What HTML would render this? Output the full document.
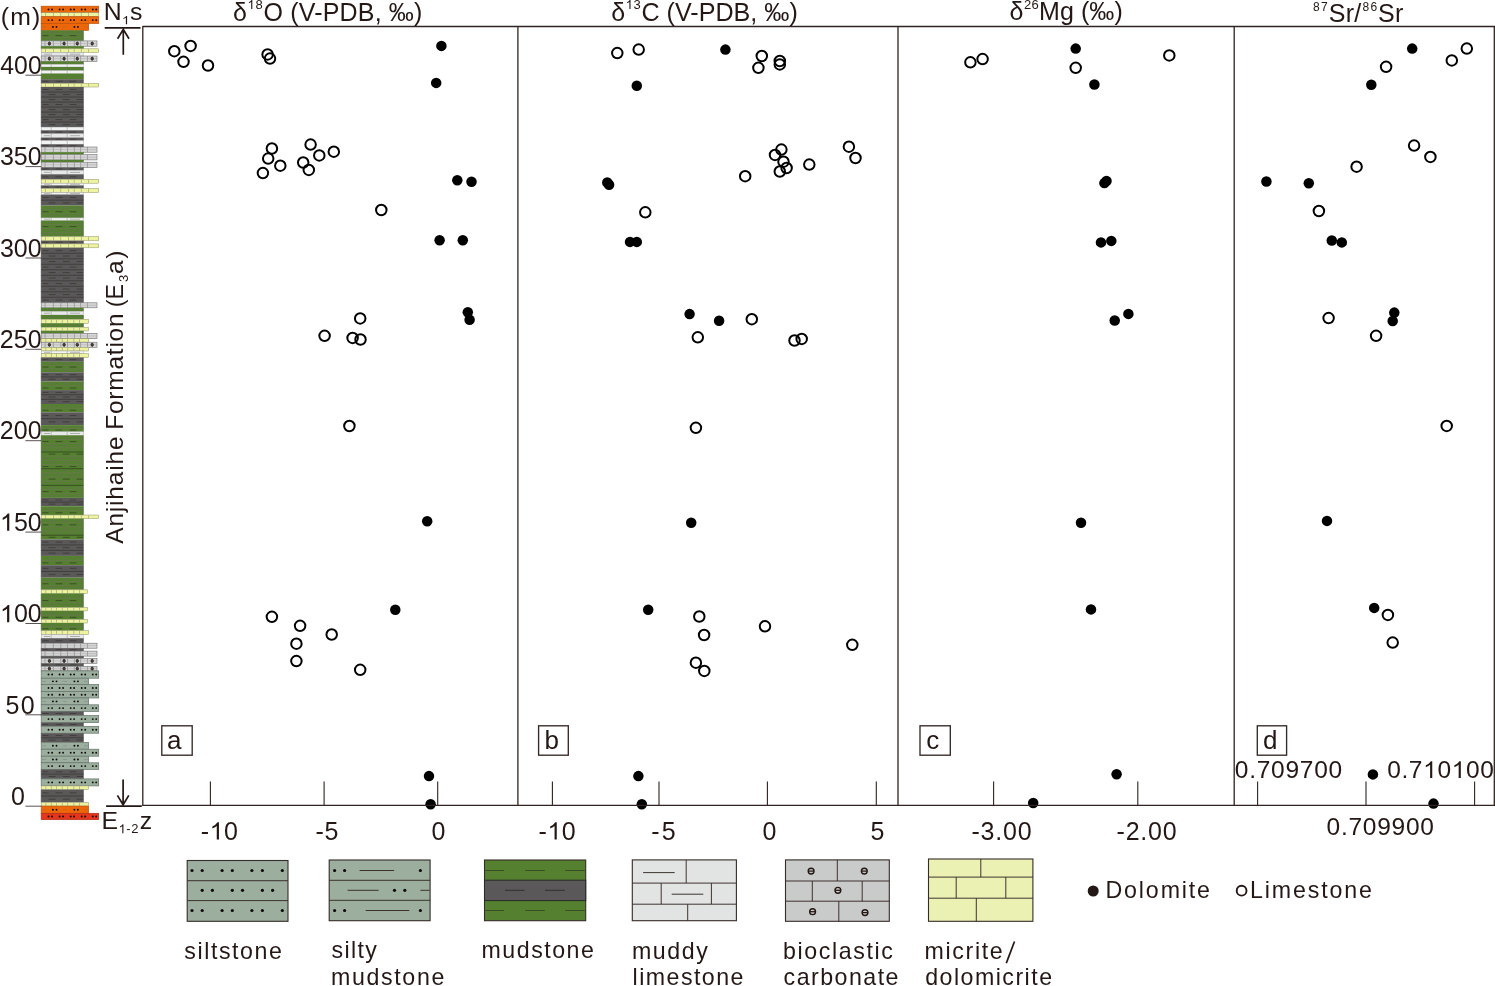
<!DOCTYPE html>
<html lang="en">
<head>
<meta charset="utf-8">
<title>Anjihaihe Formation isotope profiles</title>
<style>
html,body{margin:0;padding:0;background:#fff;}
body{width:1495px;height:986px;overflow:hidden;font-family:'Liberation Sans', sans-serif;}
svg{display:block;will-change:transform;}
svg text{font-family:"Liberation Sans",sans-serif;fill:#231815;}
</style>
</head>
<body>
<svg width="1495" height="986" viewBox="0 0 1495 986">
<rect width="1495" height="986" fill="#fff"/>
<g id="column">
<rect x="41.2" y="6.2" width="57.5" height="6.5" fill="#ed6709" stroke="#b9520c" stroke-width="0.7"/>
<circle cx="48.5" cy="9.45" r="0.95" fill="#0d0a09"/>
<circle cx="52.1" cy="9.45" r="0.95" fill="#0d0a09"/>
<circle cx="59.6" cy="9.45" r="0.95" fill="#0d0a09"/>
<circle cx="63.1" cy="9.45" r="0.95" fill="#0d0a09"/>
<circle cx="70.7" cy="9.45" r="0.95" fill="#0d0a09"/>
<circle cx="74.1" cy="9.45" r="0.95" fill="#0d0a09"/>
<circle cx="81.7" cy="9.45" r="0.95" fill="#0d0a09"/>
<circle cx="85.2" cy="9.45" r="0.95" fill="#0d0a09"/>
<circle cx="92.8" cy="9.45" r="0.95" fill="#0d0a09"/>
<circle cx="96.2" cy="9.45" r="0.95" fill="#0d0a09"/>
<rect x="41.2" y="12.7" width="57.5" height="4.0" fill="#eef3a2" stroke="#8f9068" stroke-width="0.5"/>
<path d="M45.5 13.0V16.4M53.5 13.0V16.4M60.7 13.0V16.4M68.5 13.0V16.4M74.2 13.0V16.4M81.4 13.0V16.4M88.5 13.0V16.4" stroke="#a4a67c" stroke-width="0.7" fill="none"/>
<rect x="41.2" y="16.7" width="57.5" height="6.8" fill="#ed6709" stroke="#b9520c" stroke-width="0.7"/>
<circle cx="48.5" cy="20.10" r="0.95" fill="#0d0a09"/>
<circle cx="52.1" cy="20.10" r="0.95" fill="#0d0a09"/>
<circle cx="59.6" cy="20.10" r="0.95" fill="#0d0a09"/>
<circle cx="63.1" cy="20.10" r="0.95" fill="#0d0a09"/>
<circle cx="70.7" cy="20.10" r="0.95" fill="#0d0a09"/>
<circle cx="74.1" cy="20.10" r="0.95" fill="#0d0a09"/>
<circle cx="81.7" cy="20.10" r="0.95" fill="#0d0a09"/>
<circle cx="85.2" cy="20.10" r="0.95" fill="#0d0a09"/>
<circle cx="92.8" cy="20.10" r="0.95" fill="#0d0a09"/>
<circle cx="96.2" cy="20.10" r="0.95" fill="#0d0a09"/>
<rect x="41.2" y="23.5" width="47.4" height="6.8" fill="#ed6709" stroke="#b9520c" stroke-width="0.7"/>
<circle cx="52.9" cy="26.90" r="0.95" fill="#0d0a09"/>
<circle cx="56.5" cy="26.90" r="0.95" fill="#0d0a09"/>
<circle cx="74.4" cy="26.90" r="0.95" fill="#0d0a09"/>
<circle cx="77.9" cy="26.90" r="0.95" fill="#0d0a09"/>
<path d="M41.8 26.9H46.0" stroke="#b8652a" stroke-width="0.6" fill="none"/>
<path d="M62.8 26.9H67.0" stroke="#b8652a" stroke-width="0.6" fill="none"/>
<path d="M84.0 26.9H88.2" stroke="#b8652a" stroke-width="0.6" fill="none"/>
<rect x="41.2" y="30.3" width="42.2" height="10.6" fill="#54802f"/>
<path d="M41.2 33.83H83.4M41.2 37.37H83.4" stroke="#6f7658" stroke-width="0.65" fill="none"/>
<path d="M48.7 32.07H55.6M62.8 32.07H69.7M76.6 32.07H83.1M48.7 39.13H55.6M62.8 39.13H69.7M76.6 39.13H83.1" stroke="#68705a" stroke-width="0.6" fill="none"/>
<path d="M42.4 35.60H48.5M55.6 35.60H62.4M69.7 35.60H76.4" stroke="#2f3f1f" stroke-width="0.7" fill="none"/>
<path d="M41.2 30.3V40.9M83.4 30.3V40.9" stroke="#3c5a24" stroke-width="0.5" fill="none"/>
<rect x="41.2" y="40.9" width="55.8" height="5.3" fill="#d6d6d6" stroke="#6f6f6f" stroke-width="0.6"/>
<path d="M45.1 40.9V46.2M53.4 40.9V46.2M60.8 40.9V46.2M67.5 40.9V46.2M74.4 40.9V46.2M80.6 40.9V46.2M87.5 40.9V46.2" stroke="#858585" stroke-width="0.65" fill="none"/>
<path d="M41.2 43.5H97.0" stroke="#a8a8a8" stroke-width="0.45" fill="none"/>
<ellipse cx="49.4" cy="43.55" rx="1.15" ry="1.6" fill="#4a4545" stroke="#231815" stroke-width="0.8"/>
<ellipse cx="64.1" cy="43.55" rx="1.15" ry="1.6" fill="#4a4545" stroke="#231815" stroke-width="0.8"/>
<ellipse cx="77.3" cy="43.55" rx="1.15" ry="1.6" fill="#4a4545" stroke="#231815" stroke-width="0.8"/>
<ellipse cx="92.2" cy="43.55" rx="1.15" ry="1.6" fill="#4a4545" stroke="#231815" stroke-width="0.8"/>
<rect x="41.2" y="46.2" width="42.2" height="2.6" fill="#54802f"/>
<path d="M41.2 46.2V48.8M83.4 46.2V48.8" stroke="#3c5a24" stroke-width="0.5" fill="none"/>
<rect x="41.2" y="48.8" width="57.5" height="3.7" fill="#eef3a2" stroke="#8f9068" stroke-width="0.5"/>
<path d="M45.5 49.1V52.2M53.5 49.1V52.2M60.7 49.1V52.2M68.5 49.1V52.2M74.2 49.1V52.2M81.4 49.1V52.2M88.5 49.1V52.2" stroke="#a4a67c" stroke-width="0.7" fill="none"/>
<rect x="41.2" y="52.5" width="42.2" height="3.5" fill="#e6e7e7" stroke="#9a9a9a" stroke-width="0.4"/>
<path d="M51.2 52.5V56.0M67.2 52.5V56.0" stroke="#8d8d8d" stroke-width="0.5" fill="none"/>
<path d="M44.0 54.2H50.0" stroke="#777" stroke-width="0.5" fill="none"/>
<path d="M70.0 54.2H80.0" stroke="#777" stroke-width="0.5" fill="none"/>
<rect x="41.2" y="56.0" width="55.8" height="5.3" fill="#d6d6d6" stroke="#6f6f6f" stroke-width="0.6"/>
<path d="M45.1 56.0V61.3M53.4 56.0V61.3M60.8 56.0V61.3M67.5 56.0V61.3M74.4 56.0V61.3M80.6 56.0V61.3M87.5 56.0V61.3" stroke="#858585" stroke-width="0.65" fill="none"/>
<path d="M41.2 58.6H97.0" stroke="#a8a8a8" stroke-width="0.45" fill="none"/>
<ellipse cx="49.4" cy="58.65" rx="1.15" ry="1.6" fill="#4a4545" stroke="#231815" stroke-width="0.8"/>
<ellipse cx="64.1" cy="58.65" rx="1.15" ry="1.6" fill="#4a4545" stroke="#231815" stroke-width="0.8"/>
<ellipse cx="77.3" cy="58.65" rx="1.15" ry="1.6" fill="#4a4545" stroke="#231815" stroke-width="0.8"/>
<ellipse cx="92.2" cy="58.65" rx="1.15" ry="1.6" fill="#4a4545" stroke="#231815" stroke-width="0.8"/>
<rect x="41.2" y="61.3" width="42.2" height="3.1" fill="#54802f"/>
<path d="M48.7 62.85H55.6M62.8 62.85H69.7M76.6 62.85H83.1" stroke="#68705a" stroke-width="0.6" fill="none"/>
<path d="M41.2 61.3V64.4M83.4 61.3V64.4" stroke="#3c5a24" stroke-width="0.5" fill="none"/>
<rect x="41.2" y="64.4" width="42.2" height="2.6" fill="#f1f2f2" stroke="#9a9a9a" stroke-width="0.4"/>
<path d="M51.2 64.4V67.0M67.2 64.4V67.0" stroke="#8d8d8d" stroke-width="0.5" fill="none"/>
<rect x="41.2" y="67.0" width="42.2" height="3.6" fill="#54802f"/>
<path d="M48.7 68.80H55.6M62.8 68.80H69.7M76.6 68.80H83.1" stroke="#68705a" stroke-width="0.6" fill="none"/>
<path d="M41.2 67.0V70.6M83.4 67.0V70.6" stroke="#3c5a24" stroke-width="0.5" fill="none"/>
<rect x="41.2" y="70.6" width="42.2" height="3.0" fill="#f1f2f2" stroke="#9a9a9a" stroke-width="0.4"/>
<path d="M51.2 70.6V73.6M67.2 70.6V73.6" stroke="#8d8d8d" stroke-width="0.5" fill="none"/>
<rect x="41.2" y="73.6" width="42.2" height="5.6" fill="#54802f"/>
<path d="M48.7 76.40H55.6M62.8 76.40H69.7M76.6 76.40H83.1" stroke="#68705a" stroke-width="0.6" fill="none"/>
<path d="M41.2 73.6V79.2M83.4 73.6V79.2" stroke="#3c5a24" stroke-width="0.5" fill="none"/>
<rect x="41.2" y="79.2" width="42.2" height="4.2" fill="#5a5858"/>
<path d="M42.4 81.30H48.5M55.6 81.30H62.4M69.7 81.30H76.4" stroke="#383434" stroke-width="0.7" fill="none"/>
<path d="M41.2 79.2V83.4M83.4 79.2V83.4" stroke="#3d3939" stroke-width="0.5" fill="none"/>
<rect x="41.2" y="83.4" width="57.5" height="3.6" fill="#eef3a2" stroke="#8f9068" stroke-width="0.5"/>
<path d="M45.5 83.7V86.7M53.5 83.7V86.7M60.7 83.7V86.7M68.5 83.7V86.7M74.2 83.7V86.7M81.4 83.7V86.7M88.5 83.7V86.7" stroke="#a4a67c" stroke-width="0.7" fill="none"/>
<rect x="41.2" y="87.0" width="42.2" height="40.1" fill="#5a5858"/>
<path d="M41.2 92.01H83.4M41.2 97.03H83.4M41.2 102.04H83.4M41.2 107.05H83.4M41.2 112.06H83.4M41.2 117.07H83.4M41.2 122.09H83.4" stroke="#3d3939" stroke-width="0.8" fill="none"/>
<path d="M42.4 89.51H48.5M55.6 89.51H62.4M69.7 89.51H76.4M48.7 94.52H55.6M62.8 94.52H69.7M76.6 94.52H83.1M48.7 99.53H55.6M62.8 99.53H69.7M76.6 99.53H83.1M42.4 104.54H48.5M55.6 104.54H62.4M69.7 104.54H76.4M48.7 109.56H55.6M62.8 109.56H69.7M76.6 109.56H83.1M48.7 114.57H55.6M62.8 114.57H69.7M76.6 114.57H83.1M42.4 119.58H48.5M55.6 119.58H62.4M69.7 119.58H76.4M48.7 124.59H55.6M62.8 124.59H69.7M76.6 124.59H83.1" stroke="#383434" stroke-width="0.7" fill="none"/>
<path d="M41.2 87.0V127.1M83.4 87.0V127.1" stroke="#3d3939" stroke-width="0.5" fill="none"/>
<rect x="41.2" y="127.1" width="42.2" height="3.3" fill="#f1f2f2" stroke="#9a9a9a" stroke-width="0.4"/>
<path d="M51.2 127.1V130.4M67.2 127.1V130.4" stroke="#8d8d8d" stroke-width="0.5" fill="none"/>
<rect x="41.2" y="130.4" width="42.2" height="3.3" fill="#5a5858"/>
<path d="M42.4 132.05H48.5M55.6 132.05H62.4M69.7 132.05H76.4" stroke="#383434" stroke-width="0.7" fill="none"/>
<path d="M41.2 130.4V133.7M83.4 130.4V133.7" stroke="#3d3939" stroke-width="0.5" fill="none"/>
<rect x="41.2" y="133.7" width="42.2" height="4.0" fill="#e6e7e7" stroke="#9a9a9a" stroke-width="0.4"/>
<path d="M51.2 133.7V137.7M67.2 133.7V137.7" stroke="#8d8d8d" stroke-width="0.5" fill="none"/>
<path d="M44.0 135.7H50.0" stroke="#777" stroke-width="0.5" fill="none"/>
<path d="M70.0 135.7H80.0" stroke="#777" stroke-width="0.5" fill="none"/>
<rect x="41.2" y="137.7" width="42.2" height="2.9" fill="#5a5858"/>
<path d="M42.4 139.15H48.5M55.6 139.15H62.4M69.7 139.15H76.4" stroke="#383434" stroke-width="0.7" fill="none"/>
<path d="M41.2 137.7V140.6M83.4 137.7V140.6" stroke="#3d3939" stroke-width="0.5" fill="none"/>
<rect x="41.2" y="140.6" width="42.2" height="3.7" fill="#f1f2f2" stroke="#9a9a9a" stroke-width="0.4"/>
<path d="M51.2 140.6V144.3M67.2 140.6V144.3" stroke="#8d8d8d" stroke-width="0.5" fill="none"/>
<rect x="41.2" y="144.3" width="42.2" height="2.7" fill="#5a5858"/>
<path d="M42.4 145.65H48.5M55.6 145.65H62.4M69.7 145.65H76.4" stroke="#383434" stroke-width="0.7" fill="none"/>
<path d="M41.2 144.3V147.0M83.4 144.3V147.0" stroke="#3d3939" stroke-width="0.5" fill="none"/>
<rect x="41.2" y="147.0" width="55.8" height="5.2" fill="#d6d6d6" stroke="#6f6f6f" stroke-width="0.6"/>
<path d="M45.1 147.0V152.2M53.4 147.0V152.2M60.8 147.0V152.2M67.5 147.0V152.2M74.4 147.0V152.2M80.6 147.0V152.2M87.5 147.0V152.2" stroke="#858585" stroke-width="0.65" fill="none"/>
<path d="M41.2 149.6H97.0" stroke="#a8a8a8" stroke-width="0.45" fill="none"/>
<rect x="41.2" y="152.2" width="42.2" height="2.4" fill="#54802f"/>
<path d="M41.2 152.2V154.6M83.4 152.2V154.6" stroke="#3c5a24" stroke-width="0.5" fill="none"/>
<rect x="41.2" y="154.6" width="55.8" height="5.3" fill="#d6d6d6" stroke="#6f6f6f" stroke-width="0.6"/>
<path d="M45.1 154.6V159.9M53.4 154.6V159.9M60.8 154.6V159.9M67.5 154.6V159.9M74.4 154.6V159.9M80.6 154.6V159.9M87.5 154.6V159.9" stroke="#858585" stroke-width="0.65" fill="none"/>
<path d="M41.2 157.2H97.0" stroke="#a8a8a8" stroke-width="0.45" fill="none"/>
<rect x="41.2" y="159.9" width="42.2" height="2.3" fill="#54802f"/>
<path d="M41.2 159.9V162.2M83.4 159.9V162.2" stroke="#3c5a24" stroke-width="0.5" fill="none"/>
<rect x="41.2" y="162.2" width="55.8" height="5.3" fill="#d6d6d6" stroke="#6f6f6f" stroke-width="0.6"/>
<path d="M45.1 162.2V167.5M53.4 162.2V167.5M60.8 162.2V167.5M67.5 162.2V167.5M74.4 162.2V167.5M80.6 162.2V167.5M87.5 162.2V167.5" stroke="#858585" stroke-width="0.65" fill="none"/>
<path d="M41.2 164.8H97.0" stroke="#a8a8a8" stroke-width="0.45" fill="none"/>
<rect x="41.2" y="167.5" width="42.2" height="2.9" fill="#5a5858"/>
<path d="M42.4 168.95H48.5M55.6 168.95H62.4M69.7 168.95H76.4" stroke="#383434" stroke-width="0.7" fill="none"/>
<path d="M41.2 167.5V170.4M83.4 167.5V170.4" stroke="#3d3939" stroke-width="0.5" fill="none"/>
<rect x="41.2" y="170.4" width="42.2" height="4.0" fill="#e6e7e7" stroke="#9a9a9a" stroke-width="0.4"/>
<path d="M51.2 170.4V174.4M67.2 170.4V174.4" stroke="#8d8d8d" stroke-width="0.5" fill="none"/>
<path d="M44.0 172.4H50.0" stroke="#777" stroke-width="0.5" fill="none"/>
<path d="M70.0 172.4H80.0" stroke="#777" stroke-width="0.5" fill="none"/>
<rect x="41.2" y="174.4" width="42.2" height="4.9" fill="#5a5858"/>
<path d="M42.4 176.85H48.5M55.6 176.85H62.4M69.7 176.85H76.4" stroke="#383434" stroke-width="0.7" fill="none"/>
<path d="M41.2 174.4V179.3M83.4 174.4V179.3" stroke="#3d3939" stroke-width="0.5" fill="none"/>
<rect x="41.2" y="179.3" width="57.5" height="3.9" fill="#eef3a2" stroke="#8f9068" stroke-width="0.5"/>
<path d="M45.5 179.6V182.9M53.5 179.6V182.9M60.7 179.6V182.9M68.5 179.6V182.9M74.2 179.6V182.9M81.4 179.6V182.9M88.5 179.6V182.9" stroke="#a4a67c" stroke-width="0.7" fill="none"/>
<rect x="41.2" y="183.2" width="42.2" height="2.3" fill="#f1f2f2" stroke="#9a9a9a" stroke-width="0.4"/>
<path d="M51.2 183.2V185.5M67.2 183.2V185.5" stroke="#8d8d8d" stroke-width="0.5" fill="none"/>
<path d="M44.0 184.3H50.0" stroke="#777" stroke-width="0.5" fill="none"/>
<path d="M70.0 184.3H80.0" stroke="#777" stroke-width="0.5" fill="none"/>
<rect x="41.2" y="185.5" width="42.2" height="3.0" fill="#5a5858"/>
<path d="M42.4 187.00H48.5M55.6 187.00H62.4M69.7 187.00H76.4" stroke="#383434" stroke-width="0.7" fill="none"/>
<path d="M41.2 185.5V188.5M83.4 185.5V188.5" stroke="#3d3939" stroke-width="0.5" fill="none"/>
<rect x="41.2" y="188.5" width="57.5" height="4.0" fill="#eef3a2" stroke="#8f9068" stroke-width="0.5"/>
<path d="M45.5 188.8V192.2M53.5 188.8V192.2M60.7 188.8V192.2M68.5 188.8V192.2M74.2 188.8V192.2M81.4 188.8V192.2M88.5 188.8V192.2" stroke="#a4a67c" stroke-width="0.7" fill="none"/>
<rect x="41.2" y="192.5" width="42.2" height="2.2" fill="#f1f2f2" stroke="#9a9a9a" stroke-width="0.4"/>
<path d="M51.2 192.5V194.7M67.2 192.5V194.7" stroke="#8d8d8d" stroke-width="0.5" fill="none"/>
<path d="M44.0 193.6H50.0" stroke="#777" stroke-width="0.5" fill="none"/>
<path d="M70.0 193.6H80.0" stroke="#777" stroke-width="0.5" fill="none"/>
<rect x="41.2" y="194.7" width="42.2" height="10.9" fill="#5a5858"/>
<path d="M41.2 200.15H83.4" stroke="#3d3939" stroke-width="0.8" fill="none"/>
<path d="M42.4 197.42H48.5M55.6 197.42H62.4M69.7 197.42H76.4M48.7 202.88H55.6M62.8 202.88H69.7M76.6 202.88H83.1" stroke="#383434" stroke-width="0.7" fill="none"/>
<path d="M41.2 194.7V205.6M83.4 194.7V205.6" stroke="#3d3939" stroke-width="0.5" fill="none"/>
<rect x="41.2" y="205.6" width="42.2" height="12.3" fill="#54802f"/>
<path d="M41.2 209.70H83.4M41.2 213.80H83.4" stroke="#6f7658" stroke-width="0.65" fill="none"/>
<path d="M48.7 207.65H55.6M62.8 207.65H69.7M76.6 207.65H83.1M48.7 215.85H55.6M62.8 215.85H69.7M76.6 215.85H83.1" stroke="#68705a" stroke-width="0.6" fill="none"/>
<path d="M42.4 211.75H48.5M55.6 211.75H62.4M69.7 211.75H76.4" stroke="#2f3f1f" stroke-width="0.7" fill="none"/>
<path d="M41.2 205.6V217.9M83.4 205.6V217.9" stroke="#3c5a24" stroke-width="0.5" fill="none"/>
<rect x="41.2" y="217.9" width="42.2" height="2.7" fill="#f1f2f2" stroke="#9a9a9a" stroke-width="0.4"/>
<path d="M51.2 217.9V220.6M67.2 217.9V220.6" stroke="#8d8d8d" stroke-width="0.5" fill="none"/>
<path d="M44.0 219.2H50.0" stroke="#777" stroke-width="0.5" fill="none"/>
<path d="M70.0 219.2H80.0" stroke="#777" stroke-width="0.5" fill="none"/>
<rect x="41.2" y="220.6" width="42.2" height="16.0" fill="#54802f"/>
<path d="M41.2 224.60H83.4M41.2 228.60H83.4M41.2 232.60H83.4" stroke="#6f7658" stroke-width="0.65" fill="none"/>
<path d="M48.7 222.60H55.6M62.8 222.60H69.7M76.6 222.60H83.1M48.7 230.60H55.6M62.8 230.60H69.7M76.6 230.60H83.1M42.4 234.60H48.5M55.6 234.60H62.4M69.7 234.60H76.4" stroke="#68705a" stroke-width="0.6" fill="none"/>
<path d="M42.4 226.60H48.5M55.6 226.60H62.4M69.7 226.60H76.4" stroke="#2f3f1f" stroke-width="0.7" fill="none"/>
<path d="M41.2 220.6V236.6M83.4 220.6V236.6" stroke="#3c5a24" stroke-width="0.5" fill="none"/>
<rect x="41.2" y="236.6" width="57.5" height="4.2" fill="#eef3a2" stroke="#8f9068" stroke-width="0.5"/>
<path d="M45.5 236.9V240.5M53.5 236.9V240.5M60.7 236.9V240.5M68.5 236.9V240.5M74.2 236.9V240.5M81.4 236.9V240.5M88.5 236.9V240.5" stroke="#a4a67c" stroke-width="0.7" fill="none"/>
<rect x="41.2" y="240.8" width="42.2" height="3.1" fill="#5a5858"/>
<path d="M42.4 242.35H48.5M55.6 242.35H62.4M69.7 242.35H76.4" stroke="#383434" stroke-width="0.7" fill="none"/>
<path d="M41.2 240.8V243.9M83.4 240.8V243.9" stroke="#3d3939" stroke-width="0.5" fill="none"/>
<rect x="41.2" y="243.9" width="57.5" height="3.9" fill="#eef3a2" stroke="#8f9068" stroke-width="0.5"/>
<path d="M45.5 244.2V247.5M53.5 244.2V247.5M60.7 244.2V247.5M68.5 244.2V247.5M74.2 244.2V247.5M81.4 244.2V247.5M88.5 244.2V247.5" stroke="#a4a67c" stroke-width="0.7" fill="none"/>
<rect x="41.2" y="247.8" width="42.2" height="55.0" fill="#5a5858"/>
<path d="M41.2 253.30H83.4M41.2 258.80H83.4M41.2 264.30H83.4M41.2 269.80H83.4M41.2 275.30H83.4M41.2 280.80H83.4M41.2 286.30H83.4M41.2 291.80H83.4M41.2 297.30H83.4" stroke="#3d3939" stroke-width="0.8" fill="none"/>
<path d="M42.4 250.55H48.5M55.6 250.55H62.4M69.7 250.55H76.4M48.7 256.05H55.6M62.8 256.05H69.7M76.6 256.05H83.1M48.7 261.55H55.6M62.8 261.55H69.7M76.6 261.55H83.1M42.4 267.05H48.5M55.6 267.05H62.4M69.7 267.05H76.4M48.7 272.55H55.6M62.8 272.55H69.7M76.6 272.55H83.1M48.7 278.05H55.6M62.8 278.05H69.7M76.6 278.05H83.1M42.4 283.55H48.5M55.6 283.55H62.4M69.7 283.55H76.4M48.7 289.05H55.6M62.8 289.05H69.7M76.6 289.05H83.1M48.7 294.55H55.6M62.8 294.55H69.7M76.6 294.55H83.1M42.4 300.05H48.5M55.6 300.05H62.4M69.7 300.05H76.4" stroke="#383434" stroke-width="0.7" fill="none"/>
<path d="M41.2 247.8V302.8M83.4 247.8V302.8" stroke="#3d3939" stroke-width="0.5" fill="none"/>
<rect x="41.2" y="302.8" width="55.8" height="5.0" fill="#d6d6d6" stroke="#6f6f6f" stroke-width="0.6"/>
<path d="M45.1 302.8V307.8M53.4 302.8V307.8M60.8 302.8V307.8M67.5 302.8V307.8M74.4 302.8V307.8M80.6 302.8V307.8M87.5 302.8V307.8" stroke="#858585" stroke-width="0.65" fill="none"/>
<path d="M41.2 305.3H97.0" stroke="#a8a8a8" stroke-width="0.45" fill="none"/>
<rect x="41.2" y="307.8" width="42.2" height="3.6" fill="#54802f"/>
<path d="M48.7 309.60H55.6M62.8 309.60H69.7M76.6 309.60H83.1" stroke="#68705a" stroke-width="0.6" fill="none"/>
<path d="M41.2 307.8V311.4M83.4 307.8V311.4" stroke="#3c5a24" stroke-width="0.5" fill="none"/>
<rect x="41.2" y="311.4" width="42.2" height="3.6" fill="#e6e7e7" stroke="#9a9a9a" stroke-width="0.4"/>
<path d="M51.2 311.4V315.0M67.2 311.4V315.0" stroke="#8d8d8d" stroke-width="0.5" fill="none"/>
<path d="M44.0 313.2H50.0" stroke="#777" stroke-width="0.5" fill="none"/>
<path d="M70.0 313.2H80.0" stroke="#777" stroke-width="0.5" fill="none"/>
<rect x="41.2" y="315.0" width="42.2" height="4.3" fill="#54802f"/>
<path d="M48.7 317.15H55.6M62.8 317.15H69.7M76.6 317.15H83.1" stroke="#68705a" stroke-width="0.6" fill="none"/>
<path d="M41.2 315.0V319.3M83.4 315.0V319.3" stroke="#3c5a24" stroke-width="0.5" fill="none"/>
<rect x="41.2" y="319.3" width="47.4" height="4.0" fill="#eef3a2" stroke="#8f9068" stroke-width="0.5"/>
<path d="M45.8 319.6V323.0M51.4 319.6V323.0M56.5 319.6V323.0M62.3 319.6V323.0M67.6 319.6V323.0M73.8 319.6V323.0M79.5 319.6V323.0" stroke="#a4a67c" stroke-width="0.7" fill="none"/>
<rect x="41.2" y="323.3" width="42.2" height="3.9" fill="#54802f"/>
<path d="M48.7 325.25H55.6M62.8 325.25H69.7M76.6 325.25H83.1" stroke="#68705a" stroke-width="0.6" fill="none"/>
<path d="M41.2 323.3V327.2M83.4 323.3V327.2" stroke="#3c5a24" stroke-width="0.5" fill="none"/>
<rect x="41.2" y="327.2" width="47.4" height="3.7" fill="#eef3a2" stroke="#8f9068" stroke-width="0.5"/>
<path d="M45.8 327.5V330.6M51.4 327.5V330.6M56.5 327.5V330.6M62.3 327.5V330.6M67.6 327.5V330.6M73.8 327.5V330.6M79.5 327.5V330.6" stroke="#a4a67c" stroke-width="0.7" fill="none"/>
<rect x="41.2" y="330.9" width="42.2" height="2.5" fill="#54802f"/>
<path d="M41.2 330.9V333.4M83.4 330.9V333.4" stroke="#3c5a24" stroke-width="0.5" fill="none"/>
<rect x="41.2" y="333.4" width="55.8" height="5.3" fill="#d6d6d6" stroke="#6f6f6f" stroke-width="0.6"/>
<path d="M45.1 333.4V338.7M53.4 333.4V338.7M60.8 333.4V338.7M67.5 333.4V338.7M74.4 333.4V338.7M80.6 333.4V338.7M87.5 333.4V338.7" stroke="#858585" stroke-width="0.65" fill="none"/>
<path d="M41.2 336.0H97.0" stroke="#a8a8a8" stroke-width="0.45" fill="none"/>
<rect x="41.2" y="338.7" width="47.4" height="3.5" fill="#eef3a2" stroke="#8f9068" stroke-width="0.5"/>
<path d="M45.8 339.0V341.9M51.4 339.0V341.9M56.5 339.0V341.9M62.3 339.0V341.9M67.6 339.0V341.9M73.8 339.0V341.9M79.5 339.0V341.9" stroke="#a4a67c" stroke-width="0.7" fill="none"/>
<rect x="41.2" y="342.2" width="55.8" height="5.1" fill="#d6d6d6" stroke="#6f6f6f" stroke-width="0.6"/>
<path d="M45.1 342.2V347.3M53.4 342.2V347.3M60.8 342.2V347.3M67.5 342.2V347.3M74.4 342.2V347.3M80.6 342.2V347.3M87.5 342.2V347.3" stroke="#858585" stroke-width="0.65" fill="none"/>
<path d="M41.2 344.8H97.0" stroke="#a8a8a8" stroke-width="0.45" fill="none"/>
<ellipse cx="49.4" cy="344.75" rx="1.15" ry="1.6" fill="#4a4545" stroke="#231815" stroke-width="0.8"/>
<ellipse cx="64.1" cy="344.75" rx="1.15" ry="1.6" fill="#4a4545" stroke="#231815" stroke-width="0.8"/>
<ellipse cx="77.3" cy="344.75" rx="1.15" ry="1.6" fill="#4a4545" stroke="#231815" stroke-width="0.8"/>
<ellipse cx="92.2" cy="344.75" rx="1.15" ry="1.6" fill="#4a4545" stroke="#231815" stroke-width="0.8"/>
<rect x="41.2" y="347.3" width="47.4" height="3.7" fill="#eef3a2" stroke="#8f9068" stroke-width="0.5"/>
<path d="M45.8 347.6V350.7M51.4 347.6V350.7M56.5 347.6V350.7M62.3 347.6V350.7M67.6 347.6V350.7M73.8 347.6V350.7M79.5 347.6V350.7" stroke="#a4a67c" stroke-width="0.7" fill="none"/>
<rect x="41.2" y="351.0" width="42.2" height="2.6" fill="#f1f2f2" stroke="#9a9a9a" stroke-width="0.4"/>
<path d="M51.2 351.0V353.6M67.2 351.0V353.6" stroke="#8d8d8d" stroke-width="0.5" fill="none"/>
<path d="M44.0 352.3H50.0" stroke="#777" stroke-width="0.5" fill="none"/>
<path d="M70.0 352.3H80.0" stroke="#777" stroke-width="0.5" fill="none"/>
<rect x="41.2" y="353.6" width="47.4" height="3.9" fill="#eef3a2" stroke="#8f9068" stroke-width="0.5"/>
<path d="M45.8 353.9V357.2M51.4 353.9V357.2M56.5 353.9V357.2M62.3 353.9V357.2M67.6 353.9V357.2M73.8 353.9V357.2M79.5 353.9V357.2" stroke="#a4a67c" stroke-width="0.7" fill="none"/>
<rect x="41.2" y="357.5" width="42.2" height="4.3" fill="#5a5858"/>
<path d="M42.4 359.65H48.5M55.6 359.65H62.4M69.7 359.65H76.4" stroke="#383434" stroke-width="0.7" fill="none"/>
<path d="M41.2 357.5V361.8M83.4 357.5V361.8" stroke="#3d3939" stroke-width="0.5" fill="none"/>
<rect x="41.2" y="361.8" width="42.2" height="10.5" fill="#54802f"/>
<path d="M41.2 365.30H83.4M41.2 368.80H83.4" stroke="#6f7658" stroke-width="0.65" fill="none"/>
<path d="M48.7 363.55H55.6M62.8 363.55H69.7M76.6 363.55H83.1M48.7 370.55H55.6M62.8 370.55H69.7M76.6 370.55H83.1" stroke="#68705a" stroke-width="0.6" fill="none"/>
<path d="M42.4 367.05H48.5M55.6 367.05H62.4M69.7 367.05H76.4" stroke="#2f3f1f" stroke-width="0.7" fill="none"/>
<path d="M41.2 361.8V372.3M83.4 361.8V372.3" stroke="#3c5a24" stroke-width="0.5" fill="none"/>
<rect x="41.2" y="372.3" width="42.2" height="9.3" fill="#5a5858"/>
<path d="M41.2 376.95H83.4" stroke="#3d3939" stroke-width="0.8" fill="none"/>
<path d="M42.4 374.62H48.5M55.6 374.62H62.4M69.7 374.62H76.4M48.7 379.28H55.6M62.8 379.28H69.7M76.6 379.28H83.1" stroke="#383434" stroke-width="0.7" fill="none"/>
<path d="M41.2 372.3V381.6M83.4 372.3V381.6" stroke="#3d3939" stroke-width="0.5" fill="none"/>
<rect x="41.2" y="381.6" width="42.2" height="8.5" fill="#54802f"/>
<path d="M41.2 385.85H83.4" stroke="#6f7658" stroke-width="0.65" fill="none"/>
<path d="M48.7 383.73H55.6M62.8 383.73H69.7M76.6 383.73H83.1" stroke="#68705a" stroke-width="0.6" fill="none"/>
<path d="M42.4 387.98H48.5M55.6 387.98H62.4M69.7 387.98H76.4" stroke="#2f3f1f" stroke-width="0.7" fill="none"/>
<path d="M41.2 381.6V390.1M83.4 381.6V390.1" stroke="#3c5a24" stroke-width="0.5" fill="none"/>
<rect x="41.2" y="390.1" width="42.2" height="13.9" fill="#5a5858"/>
<path d="M41.2 394.73H83.4M41.2 399.37H83.4" stroke="#3d3939" stroke-width="0.8" fill="none"/>
<path d="M42.4 392.42H48.5M55.6 392.42H62.4M69.7 392.42H76.4M48.7 397.05H55.6M62.8 397.05H69.7M76.6 397.05H83.1M48.7 401.68H55.6M62.8 401.68H69.7M76.6 401.68H83.1" stroke="#383434" stroke-width="0.7" fill="none"/>
<path d="M41.2 390.1V404.0M83.4 390.1V404.0" stroke="#3d3939" stroke-width="0.5" fill="none"/>
<rect x="41.2" y="404.0" width="42.2" height="8.3" fill="#54802f"/>
<path d="M41.2 408.15H83.4" stroke="#6f7658" stroke-width="0.65" fill="none"/>
<path d="M48.7 406.07H55.6M62.8 406.07H69.7M76.6 406.07H83.1" stroke="#68705a" stroke-width="0.6" fill="none"/>
<path d="M42.4 410.23H48.5M55.6 410.23H62.4M69.7 410.23H76.4" stroke="#2f3f1f" stroke-width="0.7" fill="none"/>
<path d="M41.2 404.0V412.3M83.4 404.0V412.3" stroke="#3c5a24" stroke-width="0.5" fill="none"/>
<rect x="41.2" y="412.3" width="42.2" height="12.8" fill="#5a5858"/>
<path d="M41.2 418.70H83.4" stroke="#3d3939" stroke-width="0.8" fill="none"/>
<path d="M42.4 415.50H48.5M55.6 415.50H62.4M69.7 415.50H76.4M48.7 421.90H55.6M62.8 421.90H69.7M76.6 421.90H83.1" stroke="#383434" stroke-width="0.7" fill="none"/>
<path d="M41.2 412.3V425.1M83.4 412.3V425.1" stroke="#3d3939" stroke-width="0.5" fill="none"/>
<rect x="41.2" y="425.1" width="42.2" height="6.6" fill="#54802f"/>
<path d="M41.2 428.40H83.4" stroke="#6f7658" stroke-width="0.65" fill="none"/>
<path d="M48.7 426.75H55.6M62.8 426.75H69.7M76.6 426.75H83.1" stroke="#68705a" stroke-width="0.6" fill="none"/>
<path d="M42.4 430.05H48.5M55.6 430.05H62.4M69.7 430.05H76.4" stroke="#2f3f1f" stroke-width="0.7" fill="none"/>
<path d="M41.2 425.1V431.7M83.4 425.1V431.7" stroke="#3c5a24" stroke-width="0.5" fill="none"/>
<rect x="41.2" y="431.7" width="42.2" height="3.6" fill="#e6e7e7" stroke="#9a9a9a" stroke-width="0.4"/>
<path d="M51.2 431.7V435.3M67.2 431.7V435.3" stroke="#8d8d8d" stroke-width="0.5" fill="none"/>
<path d="M44.0 433.5H50.0" stroke="#777" stroke-width="0.5" fill="none"/>
<path d="M70.0 433.5H80.0" stroke="#777" stroke-width="0.5" fill="none"/>
<rect x="41.2" y="435.3" width="42.2" height="62.6" fill="#54802f"/>
<path d="M41.2 439.47H83.4M41.2 443.65H83.4M41.2 447.82H83.4M41.2 456.17H83.4M41.2 460.34H83.4M41.2 464.51H83.4M41.2 472.86H83.4M41.2 477.03H83.4M41.2 481.21H83.4M41.2 489.55H83.4M41.2 493.73H83.4" stroke="#6f7658" stroke-width="0.65" fill="none"/>
<path d="M41.2 451.99H83.4M41.2 468.69H83.4M41.2 485.38H83.4" stroke="#2f3b1f" stroke-width="0.7" fill="none"/>
<path d="M48.7 437.39H55.6M62.8 437.39H69.7M76.6 437.39H83.1M48.7 445.73H55.6M62.8 445.73H69.7M76.6 445.73H83.1M42.4 449.91H48.5M55.6 449.91H62.4M69.7 449.91H76.4M42.4 458.25H48.5M55.6 458.25H62.4M69.7 458.25H76.4M48.7 462.43H55.6M62.8 462.43H69.7M76.6 462.43H83.1M48.7 470.77H55.6M62.8 470.77H69.7M76.6 470.77H83.1M42.4 474.95H48.5M55.6 474.95H62.4M69.7 474.95H76.4M42.4 483.29H48.5M55.6 483.29H62.4M69.7 483.29H76.4M48.7 487.47H55.6M62.8 487.47H69.7M76.6 487.47H83.1M48.7 495.81H55.6M62.8 495.81H69.7M76.6 495.81H83.1" stroke="#68705a" stroke-width="0.6" fill="none"/>
<path d="M42.4 441.56H48.5M55.6 441.56H62.4M69.7 441.56H76.4M48.7 454.08H55.6M62.8 454.08H69.7M76.6 454.08H83.1M42.4 466.60H48.5M55.6 466.60H62.4M69.7 466.60H76.4M48.7 479.12H55.6M62.8 479.12H69.7M76.6 479.12H83.1M42.4 491.64H48.5M55.6 491.64H62.4M69.7 491.64H76.4" stroke="#2f3f1f" stroke-width="0.7" fill="none"/>
<path d="M41.2 435.3V497.9M83.4 435.3V497.9" stroke="#3c5a24" stroke-width="0.5" fill="none"/>
<rect x="41.2" y="497.9" width="42.2" height="8.3" fill="#5a5858"/>
<path d="M41.2 502.05H83.4" stroke="#3d3939" stroke-width="0.8" fill="none"/>
<path d="M42.4 499.97H48.5M55.6 499.97H62.4M69.7 499.97H76.4M48.7 504.12H55.6M62.8 504.12H69.7M76.6 504.12H83.1" stroke="#383434" stroke-width="0.7" fill="none"/>
<path d="M41.2 497.9V506.2M83.4 497.9V506.2" stroke="#3d3939" stroke-width="0.5" fill="none"/>
<rect x="41.2" y="506.2" width="42.2" height="8.8" fill="#54802f"/>
<path d="M41.2 510.60H83.4" stroke="#6f7658" stroke-width="0.65" fill="none"/>
<path d="M48.7 508.40H55.6M62.8 508.40H69.7M76.6 508.40H83.1" stroke="#68705a" stroke-width="0.6" fill="none"/>
<path d="M42.4 512.80H48.5M55.6 512.80H62.4M69.7 512.80H76.4" stroke="#2f3f1f" stroke-width="0.7" fill="none"/>
<path d="M41.2 506.2V515.0M83.4 506.2V515.0" stroke="#3c5a24" stroke-width="0.5" fill="none"/>
<rect x="41.2" y="515.0" width="57.5" height="3.6" fill="#eef3a2" stroke="#8f9068" stroke-width="0.5"/>
<path d="M45.5 515.3V518.3M53.5 515.3V518.3M60.7 515.3V518.3M68.5 515.3V518.3M74.2 515.3V518.3M81.4 515.3V518.3M88.5 515.3V518.3" stroke="#a4a67c" stroke-width="0.7" fill="none"/>
<rect x="41.2" y="518.6" width="42.2" height="20.8" fill="#54802f"/>
<path d="M41.2 522.76H83.4M41.2 526.92H83.4M41.2 531.08H83.4" stroke="#6f7658" stroke-width="0.65" fill="none"/>
<path d="M41.2 535.24H83.4" stroke="#2f3b1f" stroke-width="0.7" fill="none"/>
<path d="M48.7 520.68H55.6M62.8 520.68H69.7M76.6 520.68H83.1M48.7 529.00H55.6M62.8 529.00H69.7M76.6 529.00H83.1M42.4 533.16H48.5M55.6 533.16H62.4M69.7 533.16H76.4" stroke="#68705a" stroke-width="0.6" fill="none"/>
<path d="M42.4 524.84H48.5M55.6 524.84H62.4M69.7 524.84H76.4M48.7 537.32H55.6M62.8 537.32H69.7M76.6 537.32H83.1" stroke="#2f3f1f" stroke-width="0.7" fill="none"/>
<path d="M41.2 518.6V539.4M83.4 518.6V539.4" stroke="#3c5a24" stroke-width="0.5" fill="none"/>
<rect x="41.2" y="539.4" width="42.2" height="16.5" fill="#5a5858"/>
<path d="M41.2 544.90H83.4M41.2 550.40H83.4" stroke="#3d3939" stroke-width="0.8" fill="none"/>
<path d="M42.4 542.15H48.5M55.6 542.15H62.4M69.7 542.15H76.4M48.7 547.65H55.6M62.8 547.65H69.7M76.6 547.65H83.1M48.7 553.15H55.6M62.8 553.15H69.7M76.6 553.15H83.1" stroke="#383434" stroke-width="0.7" fill="none"/>
<path d="M41.2 539.4V555.9M83.4 539.4V555.9" stroke="#3d3939" stroke-width="0.5" fill="none"/>
<rect x="41.2" y="555.9" width="42.2" height="9.3" fill="#54802f"/>
<path d="M41.2 560.55H83.4" stroke="#6f7658" stroke-width="0.65" fill="none"/>
<path d="M48.7 558.23H55.6M62.8 558.23H69.7M76.6 558.23H83.1" stroke="#68705a" stroke-width="0.6" fill="none"/>
<path d="M42.4 562.88H48.5M55.6 562.88H62.4M69.7 562.88H76.4" stroke="#2f3f1f" stroke-width="0.7" fill="none"/>
<path d="M41.2 555.9V565.2M83.4 555.9V565.2" stroke="#3c5a24" stroke-width="0.5" fill="none"/>
<rect x="41.2" y="565.2" width="42.2" height="12.5" fill="#5a5858"/>
<path d="M41.2 571.45H83.4" stroke="#3d3939" stroke-width="0.8" fill="none"/>
<path d="M42.4 568.33H48.5M55.6 568.33H62.4M69.7 568.33H76.4M48.7 574.58H55.6M62.8 574.58H69.7M76.6 574.58H83.1" stroke="#383434" stroke-width="0.7" fill="none"/>
<path d="M41.2 565.2V577.7M83.4 565.2V577.7" stroke="#3d3939" stroke-width="0.5" fill="none"/>
<rect x="41.2" y="577.7" width="42.2" height="12.1" fill="#54802f"/>
<path d="M41.2 581.73H83.4M41.2 585.77H83.4" stroke="#6f7658" stroke-width="0.65" fill="none"/>
<path d="M48.7 579.72H55.6M62.8 579.72H69.7M76.6 579.72H83.1M48.7 587.78H55.6M62.8 587.78H69.7M76.6 587.78H83.1" stroke="#68705a" stroke-width="0.6" fill="none"/>
<path d="M42.4 583.75H48.5M55.6 583.75H62.4M69.7 583.75H76.4" stroke="#2f3f1f" stroke-width="0.7" fill="none"/>
<path d="M41.2 577.7V589.8M83.4 577.7V589.8" stroke="#3c5a24" stroke-width="0.5" fill="none"/>
<rect x="41.2" y="589.8" width="46.3" height="3.7" fill="#eef3a2" stroke="#8f9068" stroke-width="0.5"/>
<path d="M45.8 590.1V593.2M51.4 590.1V593.2M56.5 590.1V593.2M62.3 590.1V593.2M67.6 590.1V593.2M73.8 590.1V593.2M79.5 590.1V593.2" stroke="#a4a67c" stroke-width="0.7" fill="none"/>
<rect x="41.2" y="593.5" width="42.2" height="14.1" fill="#54802f"/>
<path d="M41.2 598.20H83.4M41.2 602.90H83.4" stroke="#6f7658" stroke-width="0.65" fill="none"/>
<path d="M48.7 595.85H55.6M62.8 595.85H69.7M76.6 595.85H83.1M48.7 605.25H55.6M62.8 605.25H69.7M76.6 605.25H83.1" stroke="#68705a" stroke-width="0.6" fill="none"/>
<path d="M42.4 600.55H48.5M55.6 600.55H62.4M69.7 600.55H76.4" stroke="#2f3f1f" stroke-width="0.7" fill="none"/>
<path d="M41.2 593.5V607.6M83.4 593.5V607.6" stroke="#3c5a24" stroke-width="0.5" fill="none"/>
<rect x="41.2" y="607.6" width="46.3" height="3.3" fill="#eef3a2" stroke="#8f9068" stroke-width="0.5"/>
<path d="M45.8 607.9V610.6M51.4 607.9V610.6M56.5 607.9V610.6M62.3 607.9V610.6M67.6 607.9V610.6M73.8 607.9V610.6M79.5 607.9V610.6" stroke="#a4a67c" stroke-width="0.7" fill="none"/>
<rect x="41.2" y="610.9" width="42.2" height="8.6" fill="#54802f"/>
<path d="M41.2 615.20H83.4" stroke="#6f7658" stroke-width="0.65" fill="none"/>
<path d="M48.7 613.05H55.6M62.8 613.05H69.7M76.6 613.05H83.1" stroke="#68705a" stroke-width="0.6" fill="none"/>
<path d="M42.4 617.35H48.5M55.6 617.35H62.4M69.7 617.35H76.4" stroke="#2f3f1f" stroke-width="0.7" fill="none"/>
<path d="M41.2 610.9V619.5M83.4 610.9V619.5" stroke="#3c5a24" stroke-width="0.5" fill="none"/>
<rect x="41.2" y="619.5" width="46.3" height="3.5" fill="#eef3a2" stroke="#8f9068" stroke-width="0.5"/>
<path d="M45.8 619.8V622.7M51.4 619.8V622.7M56.5 619.8V622.7M62.3 619.8V622.7M67.6 619.8V622.7M73.8 619.8V622.7M79.5 619.8V622.7" stroke="#a4a67c" stroke-width="0.7" fill="none"/>
<rect x="41.2" y="623.0" width="42.2" height="7.7" fill="#54802f"/>
<path d="M41.2 626.85H83.4" stroke="#6f7658" stroke-width="0.65" fill="none"/>
<path d="M48.7 624.92H55.6M62.8 624.92H69.7M76.6 624.92H83.1" stroke="#68705a" stroke-width="0.6" fill="none"/>
<path d="M42.4 628.78H48.5M55.6 628.78H62.4M69.7 628.78H76.4" stroke="#2f3f1f" stroke-width="0.7" fill="none"/>
<path d="M41.2 623.0V630.7M83.4 623.0V630.7" stroke="#3c5a24" stroke-width="0.5" fill="none"/>
<rect x="41.2" y="630.7" width="47.4" height="3.9" fill="#eef3a2" stroke="#8f9068" stroke-width="0.5"/>
<path d="M45.8 631.0V634.3M51.4 631.0V634.3M56.5 631.0V634.3M62.3 631.0V634.3M67.6 631.0V634.3M73.8 631.0V634.3M79.5 631.0V634.3" stroke="#a4a67c" stroke-width="0.7" fill="none"/>
<rect x="41.2" y="634.6" width="42.2" height="3.7" fill="#e6e7e7" stroke="#9a9a9a" stroke-width="0.4"/>
<path d="M51.2 634.6V638.3M67.2 634.6V638.3" stroke="#8d8d8d" stroke-width="0.5" fill="none"/>
<path d="M44.0 636.5H50.0" stroke="#777" stroke-width="0.5" fill="none"/>
<path d="M70.0 636.5H80.0" stroke="#777" stroke-width="0.5" fill="none"/>
<rect x="41.2" y="638.3" width="42.2" height="4.9" fill="#5a5858"/>
<path d="M42.4 640.75H48.5M55.6 640.75H62.4M69.7 640.75H76.4" stroke="#383434" stroke-width="0.7" fill="none"/>
<path d="M41.2 638.3V643.2M83.4 638.3V643.2" stroke="#3d3939" stroke-width="0.5" fill="none"/>
<rect x="41.2" y="643.2" width="55.8" height="5.0" fill="#d6d6d6" stroke="#6f6f6f" stroke-width="0.6"/>
<path d="M45.1 643.2V648.2M53.4 643.2V648.2M60.8 643.2V648.2M67.5 643.2V648.2M74.4 643.2V648.2M80.6 643.2V648.2M87.5 643.2V648.2" stroke="#858585" stroke-width="0.65" fill="none"/>
<path d="M41.2 645.7H97.0" stroke="#a8a8a8" stroke-width="0.45" fill="none"/>
<rect x="41.2" y="648.2" width="42.2" height="2.9" fill="#5a5858"/>
<path d="M42.4 649.65H48.5M55.6 649.65H62.4M69.7 649.65H76.4" stroke="#383434" stroke-width="0.7" fill="none"/>
<path d="M41.2 648.2V651.1M83.4 648.2V651.1" stroke="#3d3939" stroke-width="0.5" fill="none"/>
<rect x="41.2" y="651.1" width="55.8" height="5.0" fill="#d6d6d6" stroke="#6f6f6f" stroke-width="0.6"/>
<path d="M45.1 651.1V656.1M53.4 651.1V656.1M60.8 651.1V656.1M67.5 651.1V656.1M74.4 651.1V656.1M80.6 651.1V656.1M87.5 651.1V656.1" stroke="#858585" stroke-width="0.65" fill="none"/>
<path d="M41.2 653.6H97.0" stroke="#a8a8a8" stroke-width="0.45" fill="none"/>
<rect x="41.2" y="656.1" width="42.2" height="2.3" fill="#5a5858"/>
<path d="M41.2 656.1V658.4M83.4 656.1V658.4" stroke="#3d3939" stroke-width="0.5" fill="none"/>
<rect x="41.2" y="658.4" width="55.8" height="5.0" fill="#d6d6d6" stroke="#6f6f6f" stroke-width="0.6"/>
<path d="M45.1 658.4V663.4M53.4 658.4V663.4M60.8 658.4V663.4M67.5 658.4V663.4M74.4 658.4V663.4M80.6 658.4V663.4M87.5 658.4V663.4" stroke="#858585" stroke-width="0.65" fill="none"/>
<path d="M41.2 660.9H97.0" stroke="#a8a8a8" stroke-width="0.45" fill="none"/>
<ellipse cx="49.4" cy="660.90" rx="1.15" ry="1.6" fill="#4a4545" stroke="#231815" stroke-width="0.8"/>
<ellipse cx="64.1" cy="660.90" rx="1.15" ry="1.6" fill="#4a4545" stroke="#231815" stroke-width="0.8"/>
<ellipse cx="77.3" cy="660.90" rx="1.15" ry="1.6" fill="#4a4545" stroke="#231815" stroke-width="0.8"/>
<ellipse cx="92.2" cy="660.90" rx="1.15" ry="1.6" fill="#4a4545" stroke="#231815" stroke-width="0.8"/>
<rect x="41.2" y="663.4" width="42.2" height="2.9" fill="#5a5858"/>
<path d="M42.4 664.85H48.5M55.6 664.85H62.4M69.7 664.85H76.4" stroke="#383434" stroke-width="0.7" fill="none"/>
<path d="M41.2 663.4V666.3M83.4 663.4V666.3" stroke="#3d3939" stroke-width="0.5" fill="none"/>
<rect x="41.2" y="666.3" width="55.8" height="4.6" fill="#d6d6d6" stroke="#6f6f6f" stroke-width="0.6"/>
<path d="M45.1 666.3V670.9M53.4 666.3V670.9M60.8 666.3V670.9M67.5 666.3V670.9M74.4 666.3V670.9M80.6 666.3V670.9M87.5 666.3V670.9" stroke="#858585" stroke-width="0.65" fill="none"/>
<path d="M41.2 668.6H97.0" stroke="#a8a8a8" stroke-width="0.45" fill="none"/>
<ellipse cx="49.4" cy="668.60" rx="1.15" ry="1.6" fill="#4a4545" stroke="#231815" stroke-width="0.8"/>
<ellipse cx="64.1" cy="668.60" rx="1.15" ry="1.6" fill="#4a4545" stroke="#231815" stroke-width="0.8"/>
<ellipse cx="77.3" cy="668.60" rx="1.15" ry="1.6" fill="#4a4545" stroke="#231815" stroke-width="0.8"/>
<ellipse cx="92.2" cy="668.60" rx="1.15" ry="1.6" fill="#4a4545" stroke="#231815" stroke-width="0.8"/>
<rect x="41.2" y="670.9" width="57.5" height="7.3" fill="#9caf9f" stroke="#66726a" stroke-width="0.7"/>
<circle cx="48.5" cy="674.55" r="0.95" fill="#0d0a09"/>
<circle cx="52.1" cy="674.55" r="0.95" fill="#0d0a09"/>
<circle cx="59.6" cy="674.55" r="0.95" fill="#0d0a09"/>
<circle cx="63.1" cy="674.55" r="0.95" fill="#0d0a09"/>
<circle cx="70.7" cy="674.55" r="0.95" fill="#0d0a09"/>
<circle cx="74.1" cy="674.55" r="0.95" fill="#0d0a09"/>
<circle cx="81.7" cy="674.55" r="0.95" fill="#0d0a09"/>
<circle cx="85.2" cy="674.55" r="0.95" fill="#0d0a09"/>
<circle cx="92.8" cy="674.55" r="0.95" fill="#0d0a09"/>
<circle cx="96.2" cy="674.55" r="0.95" fill="#0d0a09"/>
<rect x="41.2" y="678.2" width="47.4" height="6.3" fill="#9caf9f" stroke="#66726a" stroke-width="0.7"/>
<circle cx="52.9" cy="681.35" r="0.95" fill="#0d0a09"/>
<circle cx="56.5" cy="681.35" r="0.95" fill="#0d0a09"/>
<circle cx="74.4" cy="681.35" r="0.95" fill="#0d0a09"/>
<circle cx="77.9" cy="681.35" r="0.95" fill="#0d0a09"/>
<path d="M41.8 681.4H46.0" stroke="#7d8a80" stroke-width="0.6" fill="none"/>
<path d="M62.8 681.4H67.0" stroke="#7d8a80" stroke-width="0.6" fill="none"/>
<path d="M84.0 681.4H88.2" stroke="#7d8a80" stroke-width="0.6" fill="none"/>
<rect x="41.2" y="684.5" width="57.5" height="6.9" fill="#9caf9f" stroke="#66726a" stroke-width="0.7"/>
<circle cx="48.5" cy="687.95" r="0.95" fill="#0d0a09"/>
<circle cx="52.1" cy="687.95" r="0.95" fill="#0d0a09"/>
<circle cx="59.6" cy="687.95" r="0.95" fill="#0d0a09"/>
<circle cx="63.1" cy="687.95" r="0.95" fill="#0d0a09"/>
<circle cx="70.7" cy="687.95" r="0.95" fill="#0d0a09"/>
<circle cx="74.1" cy="687.95" r="0.95" fill="#0d0a09"/>
<circle cx="81.7" cy="687.95" r="0.95" fill="#0d0a09"/>
<circle cx="85.2" cy="687.95" r="0.95" fill="#0d0a09"/>
<circle cx="92.8" cy="687.95" r="0.95" fill="#0d0a09"/>
<circle cx="96.2" cy="687.95" r="0.95" fill="#0d0a09"/>
<rect x="41.2" y="691.4" width="57.5" height="6.6" fill="#9caf9f" stroke="#66726a" stroke-width="0.7"/>
<circle cx="48.5" cy="694.70" r="0.95" fill="#0d0a09"/>
<circle cx="52.1" cy="694.70" r="0.95" fill="#0d0a09"/>
<circle cx="59.6" cy="694.70" r="0.95" fill="#0d0a09"/>
<circle cx="63.1" cy="694.70" r="0.95" fill="#0d0a09"/>
<circle cx="70.7" cy="694.70" r="0.95" fill="#0d0a09"/>
<circle cx="74.1" cy="694.70" r="0.95" fill="#0d0a09"/>
<circle cx="81.7" cy="694.70" r="0.95" fill="#0d0a09"/>
<circle cx="85.2" cy="694.70" r="0.95" fill="#0d0a09"/>
<circle cx="92.8" cy="694.70" r="0.95" fill="#0d0a09"/>
<circle cx="96.2" cy="694.70" r="0.95" fill="#0d0a09"/>
<rect x="41.2" y="698.0" width="47.4" height="6.8" fill="#9caf9f" stroke="#66726a" stroke-width="0.7"/>
<circle cx="52.9" cy="701.40" r="0.95" fill="#0d0a09"/>
<circle cx="56.5" cy="701.40" r="0.95" fill="#0d0a09"/>
<circle cx="74.4" cy="701.40" r="0.95" fill="#0d0a09"/>
<circle cx="77.9" cy="701.40" r="0.95" fill="#0d0a09"/>
<path d="M41.8 701.4H46.0" stroke="#7d8a80" stroke-width="0.6" fill="none"/>
<path d="M62.8 701.4H67.0" stroke="#7d8a80" stroke-width="0.6" fill="none"/>
<path d="M84.0 701.4H88.2" stroke="#7d8a80" stroke-width="0.6" fill="none"/>
<rect x="41.2" y="704.8" width="57.5" height="6.6" fill="#9caf9f" stroke="#66726a" stroke-width="0.7"/>
<circle cx="48.5" cy="708.10" r="0.95" fill="#0d0a09"/>
<circle cx="52.1" cy="708.10" r="0.95" fill="#0d0a09"/>
<circle cx="59.6" cy="708.10" r="0.95" fill="#0d0a09"/>
<circle cx="63.1" cy="708.10" r="0.95" fill="#0d0a09"/>
<circle cx="70.7" cy="708.10" r="0.95" fill="#0d0a09"/>
<circle cx="74.1" cy="708.10" r="0.95" fill="#0d0a09"/>
<circle cx="81.7" cy="708.10" r="0.95" fill="#0d0a09"/>
<circle cx="85.2" cy="708.10" r="0.95" fill="#0d0a09"/>
<circle cx="92.8" cy="708.10" r="0.95" fill="#0d0a09"/>
<circle cx="96.2" cy="708.10" r="0.95" fill="#0d0a09"/>
<rect x="41.2" y="711.4" width="42.2" height="4.2" fill="#5a5858"/>
<path d="M42.4 713.50H48.5M55.6 713.50H62.4M69.7 713.50H76.4" stroke="#383434" stroke-width="0.7" fill="none"/>
<path d="M41.2 711.4V715.6M83.4 711.4V715.6" stroke="#3d3939" stroke-width="0.5" fill="none"/>
<rect x="41.2" y="715.6" width="57.5" height="7.0" fill="#9caf9f" stroke="#66726a" stroke-width="0.7"/>
<circle cx="48.5" cy="719.10" r="0.95" fill="#0d0a09"/>
<circle cx="52.1" cy="719.10" r="0.95" fill="#0d0a09"/>
<circle cx="59.6" cy="719.10" r="0.95" fill="#0d0a09"/>
<circle cx="63.1" cy="719.10" r="0.95" fill="#0d0a09"/>
<circle cx="70.7" cy="719.10" r="0.95" fill="#0d0a09"/>
<circle cx="74.1" cy="719.10" r="0.95" fill="#0d0a09"/>
<circle cx="81.7" cy="719.10" r="0.95" fill="#0d0a09"/>
<circle cx="85.2" cy="719.10" r="0.95" fill="#0d0a09"/>
<circle cx="92.8" cy="719.10" r="0.95" fill="#0d0a09"/>
<circle cx="96.2" cy="719.10" r="0.95" fill="#0d0a09"/>
<rect x="41.2" y="722.6" width="42.2" height="3.7" fill="#5a5858"/>
<path d="M42.4 724.45H48.5M55.6 724.45H62.4M69.7 724.45H76.4" stroke="#383434" stroke-width="0.7" fill="none"/>
<path d="M41.2 722.6V726.3M83.4 722.6V726.3" stroke="#3d3939" stroke-width="0.5" fill="none"/>
<rect x="41.2" y="726.3" width="57.5" height="6.9" fill="#9caf9f" stroke="#66726a" stroke-width="0.7"/>
<circle cx="48.5" cy="729.75" r="0.95" fill="#0d0a09"/>
<circle cx="52.1" cy="729.75" r="0.95" fill="#0d0a09"/>
<circle cx="59.6" cy="729.75" r="0.95" fill="#0d0a09"/>
<circle cx="63.1" cy="729.75" r="0.95" fill="#0d0a09"/>
<circle cx="70.7" cy="729.75" r="0.95" fill="#0d0a09"/>
<circle cx="74.1" cy="729.75" r="0.95" fill="#0d0a09"/>
<circle cx="81.7" cy="729.75" r="0.95" fill="#0d0a09"/>
<circle cx="85.2" cy="729.75" r="0.95" fill="#0d0a09"/>
<circle cx="92.8" cy="729.75" r="0.95" fill="#0d0a09"/>
<circle cx="96.2" cy="729.75" r="0.95" fill="#0d0a09"/>
<rect x="41.2" y="733.2" width="42.2" height="9.2" fill="#5a5858"/>
<path d="M41.2 737.80H83.4" stroke="#3d3939" stroke-width="0.8" fill="none"/>
<path d="M42.4 735.50H48.5M55.6 735.50H62.4M69.7 735.50H76.4M48.7 740.10H55.6M62.8 740.10H69.7M76.6 740.10H83.1" stroke="#383434" stroke-width="0.7" fill="none"/>
<path d="M41.2 733.2V742.4M83.4 733.2V742.4" stroke="#3d3939" stroke-width="0.5" fill="none"/>
<rect x="41.2" y="742.4" width="47.4" height="6.8" fill="#9caf9f" stroke="#66726a" stroke-width="0.7"/>
<circle cx="52.9" cy="745.80" r="0.95" fill="#0d0a09"/>
<circle cx="56.5" cy="745.80" r="0.95" fill="#0d0a09"/>
<circle cx="74.4" cy="745.80" r="0.95" fill="#0d0a09"/>
<circle cx="77.9" cy="745.80" r="0.95" fill="#0d0a09"/>
<path d="M41.8 745.8H46.0" stroke="#7d8a80" stroke-width="0.6" fill="none"/>
<path d="M62.8 745.8H67.0" stroke="#7d8a80" stroke-width="0.6" fill="none"/>
<path d="M84.0 745.8H88.2" stroke="#7d8a80" stroke-width="0.6" fill="none"/>
<rect x="41.2" y="749.2" width="57.5" height="7.0" fill="#9caf9f" stroke="#66726a" stroke-width="0.7"/>
<circle cx="48.5" cy="752.70" r="0.95" fill="#0d0a09"/>
<circle cx="52.1" cy="752.70" r="0.95" fill="#0d0a09"/>
<circle cx="59.6" cy="752.70" r="0.95" fill="#0d0a09"/>
<circle cx="63.1" cy="752.70" r="0.95" fill="#0d0a09"/>
<circle cx="70.7" cy="752.70" r="0.95" fill="#0d0a09"/>
<circle cx="74.1" cy="752.70" r="0.95" fill="#0d0a09"/>
<circle cx="81.7" cy="752.70" r="0.95" fill="#0d0a09"/>
<circle cx="85.2" cy="752.70" r="0.95" fill="#0d0a09"/>
<circle cx="92.8" cy="752.70" r="0.95" fill="#0d0a09"/>
<circle cx="96.2" cy="752.70" r="0.95" fill="#0d0a09"/>
<rect x="41.2" y="756.2" width="47.4" height="6.6" fill="#9caf9f" stroke="#66726a" stroke-width="0.7"/>
<circle cx="52.9" cy="759.50" r="0.95" fill="#0d0a09"/>
<circle cx="56.5" cy="759.50" r="0.95" fill="#0d0a09"/>
<circle cx="74.4" cy="759.50" r="0.95" fill="#0d0a09"/>
<circle cx="77.9" cy="759.50" r="0.95" fill="#0d0a09"/>
<path d="M41.8 759.5H46.0" stroke="#7d8a80" stroke-width="0.6" fill="none"/>
<path d="M62.8 759.5H67.0" stroke="#7d8a80" stroke-width="0.6" fill="none"/>
<path d="M84.0 759.5H88.2" stroke="#7d8a80" stroke-width="0.6" fill="none"/>
<rect x="41.2" y="762.8" width="57.5" height="6.6" fill="#9caf9f" stroke="#66726a" stroke-width="0.7"/>
<circle cx="48.5" cy="766.10" r="0.95" fill="#0d0a09"/>
<circle cx="52.1" cy="766.10" r="0.95" fill="#0d0a09"/>
<circle cx="59.6" cy="766.10" r="0.95" fill="#0d0a09"/>
<circle cx="63.1" cy="766.10" r="0.95" fill="#0d0a09"/>
<circle cx="70.7" cy="766.10" r="0.95" fill="#0d0a09"/>
<circle cx="74.1" cy="766.10" r="0.95" fill="#0d0a09"/>
<circle cx="81.7" cy="766.10" r="0.95" fill="#0d0a09"/>
<circle cx="85.2" cy="766.10" r="0.95" fill="#0d0a09"/>
<circle cx="92.8" cy="766.10" r="0.95" fill="#0d0a09"/>
<circle cx="96.2" cy="766.10" r="0.95" fill="#0d0a09"/>
<rect x="41.2" y="769.4" width="42.2" height="9.5" fill="#5a5858"/>
<path d="M41.2 774.15H83.4" stroke="#3d3939" stroke-width="0.8" fill="none"/>
<path d="M42.4 771.77H48.5M55.6 771.77H62.4M69.7 771.77H76.4M48.7 776.52H55.6M62.8 776.52H69.7M76.6 776.52H83.1" stroke="#383434" stroke-width="0.7" fill="none"/>
<path d="M41.2 769.4V778.9M83.4 769.4V778.9" stroke="#3d3939" stroke-width="0.5" fill="none"/>
<rect x="41.2" y="778.9" width="57.5" height="7.0" fill="#9caf9f" stroke="#66726a" stroke-width="0.7"/>
<circle cx="48.5" cy="782.40" r="0.95" fill="#0d0a09"/>
<circle cx="52.1" cy="782.40" r="0.95" fill="#0d0a09"/>
<circle cx="59.6" cy="782.40" r="0.95" fill="#0d0a09"/>
<circle cx="63.1" cy="782.40" r="0.95" fill="#0d0a09"/>
<circle cx="70.7" cy="782.40" r="0.95" fill="#0d0a09"/>
<circle cx="74.1" cy="782.40" r="0.95" fill="#0d0a09"/>
<circle cx="81.7" cy="782.40" r="0.95" fill="#0d0a09"/>
<circle cx="85.2" cy="782.40" r="0.95" fill="#0d0a09"/>
<circle cx="92.8" cy="782.40" r="0.95" fill="#0d0a09"/>
<circle cx="96.2" cy="782.40" r="0.95" fill="#0d0a09"/>
<rect x="41.2" y="785.9" width="47.4" height="3.7" fill="#eef3a2" stroke="#8f9068" stroke-width="0.5"/>
<path d="M45.8 786.2V789.3M51.4 786.2V789.3M56.5 786.2V789.3M62.3 786.2V789.3M67.6 786.2V789.3M73.8 786.2V789.3M79.5 786.2V789.3" stroke="#a4a67c" stroke-width="0.7" fill="none"/>
<rect x="41.2" y="789.6" width="42.2" height="12.8" fill="#5a5858"/>
<path d="M41.2 796.00H83.4" stroke="#3d3939" stroke-width="0.8" fill="none"/>
<path d="M42.4 792.80H48.5M55.6 792.80H62.4M69.7 792.80H76.4M48.7 799.20H55.6M62.8 799.20H69.7M76.6 799.20H83.1" stroke="#383434" stroke-width="0.7" fill="none"/>
<path d="M41.2 789.6V802.4M83.4 789.6V802.4" stroke="#3d3939" stroke-width="0.5" fill="none"/>
<rect x="41.2" y="802.4" width="47.4" height="3.7" fill="#eef3a2" stroke="#8f9068" stroke-width="0.5"/>
<path d="M45.8 802.7V805.8M51.4 802.7V805.8M56.5 802.7V805.8M62.3 802.7V805.8M67.6 802.7V805.8M73.8 802.7V805.8M79.5 802.7V805.8" stroke="#a4a67c" stroke-width="0.7" fill="none"/>
<rect x="41.2" y="806.1" width="47.4" height="7.2" fill="#ed6709" stroke="#b9520c" stroke-width="0.7"/>
<circle cx="52.9" cy="809.70" r="0.95" fill="#0d0a09"/>
<circle cx="56.5" cy="809.70" r="0.95" fill="#0d0a09"/>
<circle cx="74.4" cy="809.70" r="0.95" fill="#0d0a09"/>
<circle cx="77.9" cy="809.70" r="0.95" fill="#0d0a09"/>
<path d="M41.8 809.7H46.0" stroke="#b8652a" stroke-width="0.6" fill="none"/>
<path d="M62.8 809.7H67.0" stroke="#b8652a" stroke-width="0.6" fill="none"/>
<path d="M84.0 809.7H88.2" stroke="#b8652a" stroke-width="0.6" fill="none"/>
<rect x="41.2" y="813.3" width="57.5" height="6.3" fill="#e5351c" stroke="#b02a16" stroke-width="0.7"/>
<circle cx="48.5" cy="816.45" r="0.95" fill="#0d0a09"/>
<circle cx="52.1" cy="816.45" r="0.95" fill="#0d0a09"/>
<circle cx="59.6" cy="816.45" r="0.95" fill="#0d0a09"/>
<circle cx="63.1" cy="816.45" r="0.95" fill="#0d0a09"/>
<circle cx="70.7" cy="816.45" r="0.95" fill="#0d0a09"/>
<circle cx="74.1" cy="816.45" r="0.95" fill="#0d0a09"/>
<circle cx="81.7" cy="816.45" r="0.95" fill="#0d0a09"/>
<circle cx="85.2" cy="816.45" r="0.95" fill="#0d0a09"/>
<circle cx="92.8" cy="816.45" r="0.95" fill="#0d0a09"/>
<circle cx="96.2" cy="816.45" r="0.95" fill="#0d0a09"/>
<path d="M25.4 806.2H41.2" stroke="#4a4040" stroke-width="0.9" fill="none"/>
<text x="10.90" y="804.9" font-size="25.0">0</text>
<path d="M25.4 714.8H41.2" stroke="#4a4040" stroke-width="0.9" fill="none"/>
<text x="5.50" y="713.5" font-size="25.0" textLength="29.08" lengthAdjust="spacing">50</text>
<path d="M25.4 623.5H41.2" stroke="#4a4040" stroke-width="0.9" fill="none"/>
<path d="M763 0H583V1102Q480 1010 223 894V1061Q500 1182 644 1409H763Z" transform="translate(-0.02 622.2) scale(0.01220 -0.01221)" fill="#231815"/>
<text x="13.88" y="622.2" font-size="25.0" textLength="27.80" lengthAdjust="spacingAndGlyphs">00</text>
<path d="M25.4 532.1H41.2" stroke="#4a4040" stroke-width="0.9" fill="none"/>
<path d="M763 0H583V1102Q480 1010 223 894V1061Q500 1182 644 1409H763Z" transform="translate(-0.02 530.8) scale(0.01220 -0.01221)" fill="#231815"/>
<text x="13.88" y="530.8" font-size="25.0" textLength="27.80" lengthAdjust="spacingAndGlyphs">50</text>
<path d="M25.4 440.7H41.2" stroke="#4a4040" stroke-width="0.9" fill="none"/>
<text x="-0.36" y="439.4" font-size="25.0" textLength="42.03" lengthAdjust="spacing">200</text>
<path d="M25.4 349.3H41.2" stroke="#4a4040" stroke-width="0.9" fill="none"/>
<text x="-0.36" y="348.0" font-size="25.0" textLength="42.03" lengthAdjust="spacing">250</text>
<path d="M25.4 258.0H41.2" stroke="#4a4040" stroke-width="0.9" fill="none"/>
<text x="-0.05" y="256.7" font-size="25.0" textLength="41.73" lengthAdjust="spacing">300</text>
<path d="M25.4 166.6H41.2" stroke="#4a4040" stroke-width="0.9" fill="none"/>
<text x="-0.05" y="165.3" font-size="25.0" textLength="41.73" lengthAdjust="spacing">350</text>
<path d="M25.4 75.2H41.2" stroke="#4a4040" stroke-width="0.9" fill="none"/>
<text x="0.33" y="73.9" font-size="25.0" textLength="41.34" lengthAdjust="spacingAndGlyphs">400</text>
</g>
<g id="panels">
<path d="M210.4 781.6V805.45M324.1 781.6V805.45M437.7 781.6V805.45M552.4 781.6V805.45M659.0 781.6V805.45M767.4 781.6V805.45M876.3 781.6V805.45M993.6 781.6V805.45M1137.8 781.6V805.45M1257.6 781.6V805.45M1366.0 781.6V805.45M1474.6 781.6V805.45" stroke="#2e2421" stroke-width="1.1" fill="none"/>
<text x="200.79" y="839.5" font-size="25.0">-</text>
<path d="M763 0H583V1102Q480 1010 223 894V1061Q500 1182 644 1409H763Z" transform="translate(209.64 839.5) scale(0.01221 -0.01221)" fill="#231815"/>
<text x="224.07" y="839.5" font-size="25.0">0</text>
<text x="315.49" y="839.5" font-size="25.0" textLength="22.86" lengthAdjust="spacing">-5</text>
<text x="431.50" y="839.5" font-size="25.0">0</text>
<text x="538.59" y="839.5" font-size="25.0">-</text>
<path d="M763 0H583V1102Q480 1010 223 894V1061Q500 1182 644 1409H763Z" transform="translate(547.44 839.5) scale(0.01221 -0.01221)" fill="#231815"/>
<text x="561.87" y="839.5" font-size="25.0">0</text>
<text x="651.19" y="839.5" font-size="25.0" textLength="24.56" lengthAdjust="spacing">-5</text>
<text x="762.55" y="839.5" font-size="25.0">0</text>
<text x="870.42" y="839.5" font-size="25.0">5</text>
<text x="971.39" y="839.5" font-size="25.0" textLength="60.19" lengthAdjust="spacing">-3.00</text>
<text x="1116.59" y="839.5" font-size="25.0" textLength="60.09" lengthAdjust="spacing">-2.00</text>
<text x="1234.74" y="777.7" font-size="24.5" textLength="107.51" lengthAdjust="spacing">0.709700</text>
<text x="1387.14" y="778.0" font-size="24.5" textLength="35.35" lengthAdjust="spacing">0.7</text>
<path d="M763 0H583V1102Q480 1010 223 894V1061Q500 1182 644 1409H763Z" transform="translate(1423.14 778.0) scale(0.01196 -0.01196)" fill="#231815"/>
<text x="1437.41" y="778.0" font-size="24.5">0</text>
<path d="M763 0H583V1102Q480 1010 223 894V1061Q500 1182 644 1409H763Z" transform="translate(1451.69 778.0) scale(0.01196 -0.01196)" fill="#231815"/>
<text x="1465.96" y="778.0" font-size="24.5" textLength="27.90" lengthAdjust="spacing">00</text>
<text x="1326.54" y="835.3" font-size="24.5" textLength="107.41" lengthAdjust="spacing">0.709900</text>
<rect x="161.8" y="725.8" width="30.4" height="29.4" fill="#fff" stroke="#231815" stroke-width="1.35" opacity="0.92"/>
<text x="166.92" y="749.1" font-size="26.0">a</text>
<rect x="538.6" y="725.8" width="29.7" height="29.4" fill="#fff" stroke="#231815" stroke-width="1.35" opacity="0.92"/>
<text x="544.48" y="749.1" font-size="26.0">b</text>
<rect x="920.0" y="725.8" width="30.3" height="29.4" fill="#fff" stroke="#231815" stroke-width="1.35" opacity="0.92"/>
<text x="926.29" y="749.1" font-size="26.0">c</text>
<rect x="1257.3" y="725.8" width="29.3" height="29.4" fill="#fff" stroke="#231815" stroke-width="1.35" opacity="0.92"/>
<text x="1263.11" y="749.1" font-size="26.0">d</text>
<g fill="none" stroke="#000" stroke-width="2.0">
<circle cx="174.3" cy="51.2" r="5.25"/>
<circle cx="190.6" cy="45.9" r="5.25"/>
<circle cx="183.5" cy="61.8" r="5.25"/>
<circle cx="208.0" cy="65.5" r="5.25"/>
<circle cx="267.6" cy="54.4" r="5.25"/>
<circle cx="270.0" cy="58.6" r="5.25"/>
<circle cx="271.9" cy="148.5" r="5.25"/>
<circle cx="268.2" cy="158.6" r="5.25"/>
<circle cx="280.3" cy="165.7" r="5.25"/>
<circle cx="262.9" cy="173.1" r="5.25"/>
<circle cx="310.6" cy="144.6" r="5.25"/>
<circle cx="319.3" cy="155.4" r="5.25"/>
<circle cx="333.8" cy="151.7" r="5.25"/>
<circle cx="303.2" cy="162.5" r="5.25"/>
<circle cx="308.8" cy="169.9" r="5.25"/>
<circle cx="381.3" cy="210.0" r="5.25"/>
<circle cx="360.2" cy="318.4" r="5.25"/>
<circle cx="324.6" cy="335.8" r="5.25"/>
<circle cx="352.6" cy="337.9" r="5.25"/>
<circle cx="360.5" cy="339.5" r="5.25"/>
<circle cx="349.4" cy="426.0" r="5.25"/>
<circle cx="271.9" cy="616.8" r="5.25"/>
<circle cx="300.1" cy="625.8" r="5.25"/>
<circle cx="331.7" cy="634.5" r="5.25"/>
<circle cx="296.4" cy="643.7" r="5.25"/>
<circle cx="296.4" cy="661.1" r="5.25"/>
<circle cx="360.2" cy="669.8" r="5.25"/>
<circle cx="617.3" cy="53.1" r="5.25"/>
<circle cx="638.7" cy="49.6" r="5.25"/>
<circle cx="761.8" cy="56.0" r="5.25"/>
<circle cx="758.4" cy="67.8" r="5.25"/>
<circle cx="779.8" cy="61.0" r="5.25"/>
<circle cx="779.8" cy="64.4" r="5.25"/>
<circle cx="781.4" cy="149.6" r="5.25"/>
<circle cx="775.0" cy="154.9" r="5.25"/>
<circle cx="783.5" cy="161.7" r="5.25"/>
<circle cx="786.6" cy="168.0" r="5.25"/>
<circle cx="779.8" cy="171.5" r="5.25"/>
<circle cx="745.2" cy="176.2" r="5.25"/>
<circle cx="809.3" cy="164.6" r="5.25"/>
<circle cx="848.9" cy="146.7" r="5.25"/>
<circle cx="855.5" cy="158.0" r="5.25"/>
<circle cx="645.3" cy="212.3" r="5.25"/>
<circle cx="751.8" cy="319.2" r="5.25"/>
<circle cx="697.8" cy="337.3" r="5.25"/>
<circle cx="794.5" cy="340.5" r="5.25"/>
<circle cx="801.7" cy="338.9" r="5.25"/>
<circle cx="695.9" cy="427.8" r="5.25"/>
<circle cx="699.3" cy="616.5" r="5.25"/>
<circle cx="704.1" cy="635.0" r="5.25"/>
<circle cx="765.0" cy="626.3" r="5.25"/>
<circle cx="852.3" cy="644.8" r="5.25"/>
<circle cx="695.9" cy="662.7" r="5.25"/>
<circle cx="704.3" cy="670.9" r="5.25"/>
<circle cx="970.4" cy="62.3" r="5.25"/>
<circle cx="982.6" cy="59.1" r="5.25"/>
<circle cx="1075.7" cy="67.8" r="5.25"/>
<circle cx="1169.3" cy="55.4" r="5.25"/>
<circle cx="1466.8" cy="48.6" r="5.25"/>
<circle cx="1451.8" cy="60.4" r="5.25"/>
<circle cx="1386.1" cy="66.8" r="5.25"/>
<circle cx="1414.1" cy="145.6" r="5.25"/>
<circle cx="1430.4" cy="156.9" r="5.25"/>
<circle cx="1356.6" cy="166.7" r="5.25"/>
<circle cx="1318.9" cy="211.0" r="5.25"/>
<circle cx="1328.6" cy="318.1" r="5.25"/>
<circle cx="1376.1" cy="335.8" r="5.25"/>
<circle cx="1446.7" cy="425.9" r="5.25"/>
<circle cx="1387.9" cy="614.9" r="5.25"/>
<circle cx="1392.7" cy="642.6" r="5.25"/>
</g>
<g fill="#000">
<circle cx="441.4" cy="45.9" r="5.25"/>
<circle cx="436.2" cy="82.9" r="5.25"/>
<circle cx="457.3" cy="180.2" r="5.25"/>
<circle cx="471.5" cy="181.8" r="5.25"/>
<circle cx="439.6" cy="240.3" r="5.25"/>
<circle cx="462.8" cy="240.3" r="5.25"/>
<circle cx="467.8" cy="312.3" r="5.25"/>
<circle cx="469.6" cy="319.7" r="5.25"/>
<circle cx="427.2" cy="521.2" r="5.25"/>
<circle cx="395.3" cy="609.7" r="5.25"/>
<circle cx="429.0" cy="776.1" r="5.25"/>
<circle cx="430.6" cy="804.3" r="5.25"/>
<circle cx="725.4" cy="49.6" r="5.25"/>
<circle cx="636.8" cy="85.8" r="5.25"/>
<circle cx="607.3" cy="182.5" r="5.25"/>
<circle cx="609.1" cy="184.7" r="5.25"/>
<circle cx="630.0" cy="241.9" r="5.25"/>
<circle cx="636.8" cy="241.9" r="5.25"/>
<circle cx="689.6" cy="314.1" r="5.25"/>
<circle cx="719.1" cy="320.7" r="5.25"/>
<circle cx="691.2" cy="522.7" r="5.25"/>
<circle cx="648.2" cy="609.7" r="5.25"/>
<circle cx="638.4" cy="776.1" r="5.25"/>
<circle cx="641.8" cy="804.3" r="5.25"/>
<circle cx="1075.7" cy="48.6" r="5.25"/>
<circle cx="1094.4" cy="84.5" r="5.25"/>
<circle cx="1104.4" cy="183.1" r="5.25"/>
<circle cx="1106.5" cy="181.0" r="5.25"/>
<circle cx="1101.0" cy="242.4" r="5.25"/>
<circle cx="1111.3" cy="240.9" r="5.25"/>
<circle cx="1114.7" cy="320.5" r="5.25"/>
<circle cx="1128.4" cy="313.9" r="5.25"/>
<circle cx="1081.0" cy="522.8" r="5.25"/>
<circle cx="1091.0" cy="609.4" r="5.25"/>
<circle cx="1116.6" cy="774.3" r="5.25"/>
<circle cx="1033.2" cy="803.0" r="5.25"/>
<circle cx="1412.2" cy="48.6" r="5.25"/>
<circle cx="1371.3" cy="84.7" r="5.25"/>
<circle cx="1266.4" cy="181.5" r="5.25"/>
<circle cx="1308.8" cy="183.3" r="5.25"/>
<circle cx="1331.8" cy="240.5" r="5.25"/>
<circle cx="1341.8" cy="242.4" r="5.25"/>
<circle cx="1394.3" cy="312.6" r="5.25"/>
<circle cx="1392.7" cy="321.0" r="5.25"/>
<circle cx="1327.0" cy="520.9" r="5.25"/>
<circle cx="1374.2" cy="607.9" r="5.25"/>
<circle cx="1372.9" cy="774.4" r="5.25"/>
<circle cx="1433.5" cy="803.6" r="5.25"/>
</g>
<path d="M142.8 26.5H1495M142.8 805.45H1495" stroke="#2e2421" stroke-width="1.3" fill="none"/>
<path d="M142.8 25.9V806.0500000000001M517.9 25.9V806.0500000000001M898.0 25.9V806.0500000000001M1234.2 25.9V806.0500000000001M1494.3 25.9V806.0500000000001" stroke="#2e2421" stroke-width="1.3" fill="none"/>
<text x="233.10" y="20.6" font-size="25.0">δ</text>
<path d="M763 0H583V1102Q480 1010 223 894V1061Q500 1182 644 1409H763Z" transform="translate(247.48 8.9) scale(0.00635 -0.00635)" fill="#231815"/>
<text x="255.43" y="8.9" font-size="13.0">8</text>
<text x="263.52" y="20.6" font-size="25.0" textLength="158.83" lengthAdjust="spacing">O (V-PDB, ‰)</text>
<text x="611.20" y="20.6" font-size="25.0">δ</text>
<path d="M763 0H583V1102Q480 1010 223 894V1061Q500 1182 644 1409H763Z" transform="translate(625.68 8.9) scale(0.00635 -0.00635)" fill="#231815"/>
<text x="633.44" y="8.9" font-size="13.0">3</text>
<text x="641.43" y="20.6" font-size="25.0" textLength="156.41" lengthAdjust="spacingAndGlyphs">C (V-PDB, ‰)</text>
<text x="1009.45" y="20.3" font-size="25.0">δ</text>
<text x="1023.95" y="8.6" font-size="13.0" textLength="14.73" lengthAdjust="spacing">26</text>
<text x="1039.05" y="20.3" font-size="25.0" textLength="83.70" lengthAdjust="spacing">Mg (‰)</text>
<text x="1312.98" y="10.8" font-size="12.0" textLength="14.62" lengthAdjust="spacing">87</text>
<text x="1328.76" y="22.1" font-size="25.0" textLength="32.34" lengthAdjust="spacing">Sr/</text>
<text x="1362.48" y="10.8" font-size="12.0" textLength="14.75" lengthAdjust="spacing">86</text>
<text x="1378.06" y="22.1" font-size="25.0" textLength="25.15" lengthAdjust="spacing">Sr</text>
<text x="0.86" y="24.8" font-size="24.8" textLength="39.48" lengthAdjust="spacing">(m)</text>
<text x="103.64" y="19.5" font-size="24.8">N</text>
<path d="M763 0H583V1102Q480 1010 223 894V1061Q500 1182 644 1409H763Z" transform="translate(121.87 24.2) scale(0.00685 -0.00586)" fill="#231815"/>
<text x="130.10" y="19.5" font-size="24.8">s</text>
<path d="M104.7 27.8H140.5" stroke="#231815" stroke-width="1.7" fill="none"/>
<path d="M123.3 54.8V29.6M117.6 38.8L123.3 29.4L129.0 38.8" stroke="#231815" stroke-width="1.7" fill="none"/>
<path d="M106.1 806.2H141.8" stroke="#231815" stroke-width="1.7" fill="none"/>
<path d="M123.1 779.4V804.6M117.4 795.4L123.1 804.8L128.8 795.4" stroke="#231815" stroke-width="1.7" fill="none"/>
<text x="101.59" y="828.9" font-size="24.8">E</text>
<path d="M763 0H583V1102Q480 1010 223 894V1061Q500 1182 644 1409H763Z" transform="translate(118.58 833.3) scale(0.00635 -0.00635)" fill="#231815"/>
<text x="126.35" y="833.3" font-size="13.0" textLength="12.10" lengthAdjust="spacing">-2</text>
<text x="139.77" y="828.9" font-size="24.8">z</text>
<g transform="translate(123.0 543.7) rotate(-90)">
<text x="-0.05" y="0.0" font-size="24.5" textLength="107.34" lengthAdjust="spacing">Anjihaihe</text>
<text x="113.99" y="0.0" font-size="24.5" textLength="116.30" lengthAdjust="spacing">Formation</text>
<text x="236.36" y="0.0" font-size="24.5" textLength="23.24" lengthAdjust="spacingAndGlyphs">(E</text>
<text x="261.77" y="4.8" font-size="13.0">3</text>
<text x="269.76" y="0.0" font-size="24.5" textLength="23.36" lengthAdjust="spacing">a)</text>
</g>
</g>
<g id="legend">
<rect x="187.2" y="860.5" width="100.8" height="60.8" fill="#9caf9f" stroke="#352b28" stroke-width="1.1"/>
<path d="M187.2 880.7H288.0" stroke="#352b28" stroke-width="0.95" fill="none"/>
<path d="M187.2 900.6H288.0" stroke="#352b28" stroke-width="0.95" fill="none"/>
<circle cx="192.0" cy="870.50" r="1.6" fill="#0d0a09"/>
<circle cx="202.2" cy="870.50" r="1.6" fill="#0d0a09"/>
<circle cx="222.1" cy="870.50" r="1.6" fill="#0d0a09"/>
<circle cx="232.3" cy="870.50" r="1.6" fill="#0d0a09"/>
<circle cx="251.9" cy="870.50" r="1.6" fill="#0d0a09"/>
<circle cx="262.4" cy="870.50" r="1.6" fill="#0d0a09"/>
<circle cx="282.3" cy="870.50" r="1.6" fill="#0d0a09"/>
<circle cx="192.0" cy="910.50" r="1.6" fill="#0d0a09"/>
<circle cx="202.2" cy="910.50" r="1.6" fill="#0d0a09"/>
<circle cx="222.1" cy="910.50" r="1.6" fill="#0d0a09"/>
<circle cx="232.3" cy="910.50" r="1.6" fill="#0d0a09"/>
<circle cx="251.9" cy="910.50" r="1.6" fill="#0d0a09"/>
<circle cx="262.4" cy="910.50" r="1.6" fill="#0d0a09"/>
<circle cx="282.3" cy="910.50" r="1.6" fill="#0d0a09"/>
<circle cx="202.2" cy="890.30" r="1.6" fill="#0d0a09"/>
<circle cx="212.4" cy="890.30" r="1.6" fill="#0d0a09"/>
<circle cx="232.3" cy="890.30" r="1.6" fill="#0d0a09"/>
<circle cx="242.5" cy="890.30" r="1.6" fill="#0d0a09"/>
<circle cx="262.4" cy="890.30" r="1.6" fill="#0d0a09"/>
<circle cx="272.6" cy="890.30" r="1.6" fill="#0d0a09"/>
<rect x="329.2" y="860.0" width="100.9" height="60.7" fill="#9caf9f" stroke="#352b28" stroke-width="1.1"/>
<path d="M329.2 880.3H430.1" stroke="#352b28" stroke-width="0.95" fill="none"/>
<path d="M329.2 900.3H430.1" stroke="#352b28" stroke-width="0.95" fill="none"/>
<circle cx="334.6" cy="870.50" r="1.6" fill="#0d0a09"/>
<circle cx="344.6" cy="870.50" r="1.6" fill="#0d0a09"/>
<circle cx="420.4" cy="870.50" r="1.6" fill="#0d0a09"/>
<path d="M359.6 870.5H394.2" stroke="#352b28" stroke-width="0.95" fill="none"/>
<circle cx="394.5" cy="890.30" r="1.6" fill="#0d0a09"/>
<circle cx="404.8" cy="890.30" r="1.6" fill="#0d0a09"/>
<path d="M347.6 890.3H378.6" stroke="#352b28" stroke-width="0.95" fill="none"/>
<path d="M420.4 890.3H429.5" stroke="#352b28" stroke-width="0.95" fill="none"/>
<circle cx="334.6" cy="910.50" r="1.6" fill="#0d0a09"/>
<circle cx="344.6" cy="910.50" r="1.6" fill="#0d0a09"/>
<circle cx="420.4" cy="910.50" r="1.6" fill="#0d0a09"/>
<path d="M365.7 910.5H409.3" stroke="#352b28" stroke-width="0.95" fill="none"/>
<rect x="484.5" y="860.0" width="101.2" height="60.7" fill="#54802f" stroke="#352b28" stroke-width="1.1"/>
<rect x="484.5" y="880.2" width="101.2" height="20.4" fill="#5a5858" stroke="#2a2a2a" stroke-width="1.0"/>
<path d="M485.2 870.5H504.1" stroke="#2b3a1e" stroke-width="0.7" fill="none"/>
<path d="M525.2 870.5H544.8" stroke="#2b3a1e" stroke-width="0.7" fill="none"/>
<path d="M565.2 870.5H584.8" stroke="#2b3a1e" stroke-width="0.7" fill="none"/>
<path d="M485.2 910.5H504.1" stroke="#2b3a1e" stroke-width="0.7" fill="none"/>
<path d="M525.2 910.5H544.8" stroke="#2b3a1e" stroke-width="0.7" fill="none"/>
<path d="M565.2 910.5H584.8" stroke="#2b3a1e" stroke-width="0.7" fill="none"/>
<path d="M505.0 890.3H524.6" stroke="#1f1f1f" stroke-width="0.7" fill="none"/>
<path d="M545.0 890.3H564.9" stroke="#1f1f1f" stroke-width="0.7" fill="none"/>
<rect x="632.3" y="859.9" width="104.1" height="60.8" fill="#e2e4e4" stroke="#352b28" stroke-width="1.1"/>
<path d="M632.3 883.1H736.4M632.3 904.2H736.4M686.2 859.9V883.1M661.2 883.1V904.2M711.4 883.1V904.2M687.7 904.2V920.7" stroke="#352b28" stroke-width="0.95" fill="none"/>
<path d="M643.1 872.6H674.7" stroke="#352b28" stroke-width="0.95" fill="none"/>
<path d="M671.7 894.2H703.3" stroke="#352b28" stroke-width="0.95" fill="none"/>
<rect x="785.5" y="859.9" width="103.8" height="61.4" fill="#c9caca" stroke="#352b28" stroke-width="1.1"/>
<path d="M785.5 881.0H889.3M785.5 901.2H889.3M837.3 859.9V881M812.3 881V901.2M862.2 881V901.2M838.8 901.2V921.3" stroke="#352b28" stroke-width="0.95" fill="none"/>
<circle cx="811.1" cy="871.1" r="2.9" fill="#c9caca" stroke="#231815" stroke-width="1.4"/>
<path d="M808.2 871.1H814.0" stroke="#231815" stroke-width="1.25" fill="none"/>
<circle cx="864.3" cy="871.1" r="2.9" fill="#c9caca" stroke="#231815" stroke-width="1.4"/>
<path d="M861.4 871.1H867.2" stroke="#231815" stroke-width="1.25" fill="none"/>
<circle cx="837.9" cy="890.3" r="2.9" fill="#c9caca" stroke="#231815" stroke-width="1.4"/>
<path d="M835.0 890.3H840.8" stroke="#231815" stroke-width="1.25" fill="none"/>
<circle cx="812.6" cy="911.7" r="2.9" fill="#c9caca" stroke="#231815" stroke-width="1.4"/>
<path d="M809.7 911.7H815.5" stroke="#231815" stroke-width="1.25" fill="none"/>
<circle cx="865.0" cy="912.6" r="2.9" fill="#c9caca" stroke="#231815" stroke-width="1.4"/>
<path d="M862.1 912.6H867.9" stroke="#231815" stroke-width="1.25" fill="none"/>
<rect x="928.5" y="859.0" width="104.4" height="62.3" fill="#ebf1b3" stroke="#352b28" stroke-width="1.1"/>
<path d="M928.5 877.1H1032.9M928.5 898.2H1032.9M980.8 859V877.1M956.2 877.1V898.2M1005.8 877.1V898.2M976.3 898.2V921.3" stroke="#352b28" stroke-width="0.95" fill="none"/>
<text x="184.35" y="959.0" font-size="23.2" textLength="97.48" lengthAdjust="spacing">siltstone</text>
<text x="331.55" y="957.9" font-size="23.2" textLength="45.19" lengthAdjust="spacing">silty</text>
<text x="331.06" y="984.6" font-size="23.2" textLength="113.27" lengthAdjust="spacing">mudstone</text>
<text x="481.46" y="957.9" font-size="23.2" textLength="112.47" lengthAdjust="spacing">mudstone</text>
<text x="631.96" y="958.8" font-size="23.2" textLength="75.89" lengthAdjust="spacing">muddy</text>
<text x="632.54" y="985.0" font-size="23.2" textLength="110.89" lengthAdjust="spacing">limestone</text>
<text x="783.10" y="958.8" font-size="23.2" textLength="109.81" lengthAdjust="spacing">bioclastic</text>
<text x="783.61" y="985.0" font-size="23.2" textLength="114.92" lengthAdjust="spacing">carbonate</text>
<text x="924.56" y="958.8" font-size="23.2" textLength="78.17" lengthAdjust="spacing">micrite</text>
<path d="M1006.3 963.1L1014.5 941.5" stroke="#231815" stroke-width="1.7" fill="none"/>
<text x="925.13" y="985.0" font-size="23.2" textLength="126.91" lengthAdjust="spacing">dolomicrite</text>
<circle cx="1093.2" cy="891.0" r="5.5" fill="#231815"/>
<text x="1105.50" y="898.0" font-size="23.2" textLength="104.53" lengthAdjust="spacing">Dolomite</text>
<circle cx="1241.6" cy="890.7" r="4.9" fill="#fff" stroke="#231815" stroke-width="1.9"/>
<text x="1250.10" y="898.0" font-size="23.2" textLength="121.73" lengthAdjust="spacing">Limestone</text>
</g>
</svg>
</body>
</html>
